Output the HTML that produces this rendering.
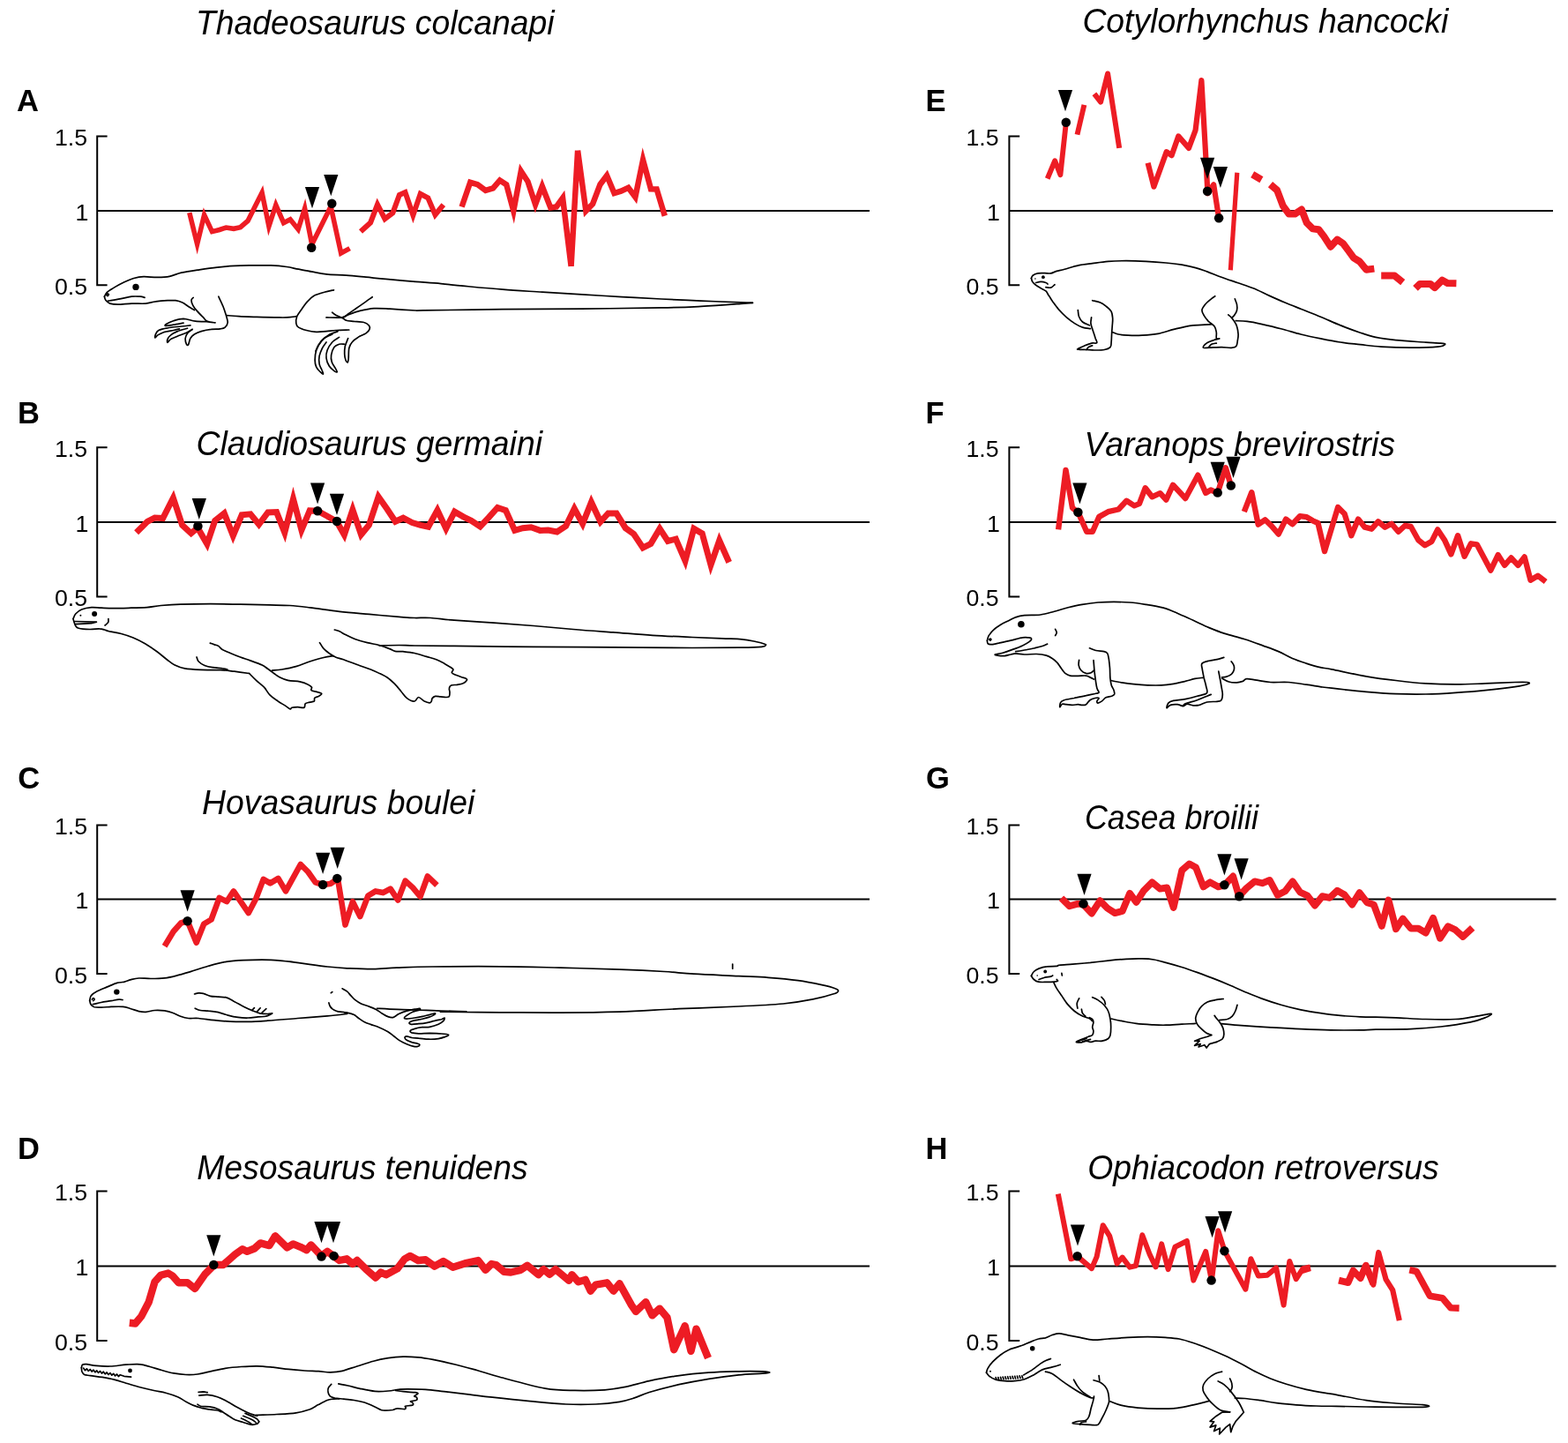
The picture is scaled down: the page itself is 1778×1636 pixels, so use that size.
<!DOCTYPE html>
<html lang="en"><head><meta charset="utf-8"><title>Figure</title>
<style>
html,body{margin:0;padding:0;background:#fff;}
body{width:1778px;height:1636px;overflow:hidden;}
svg{display:block;}
.ax{fill:none;stroke:#000;stroke-width:2;}
.red{fill:none;stroke:#ed1c24;stroke-linejoin:miter;stroke-miterlimit:40;stroke-linecap:butt;}
.rj{stroke-linejoin:round;}
.an{fill:none;stroke:#000;stroke-width:1.7;stroke-linejoin:round;stroke-linecap:round;}
.tk{font-family:"Liberation Sans",sans-serif;font-size:26.7px;fill:#000;text-anchor:end;}
.lb{font-family:"Liberation Sans",sans-serif;font-size:34.5px;font-weight:bold;fill:#000;}
.tt{font-family:"Liberation Sans",sans-serif;font-size:38px;font-style:italic;fill:#000;}
</style></head>
<body>
<svg width="1778" height="1636" viewBox="0 0 1778 1636">
<rect width="1778" height="1636" fill="#fff"/>
<g id="panel-A">
<path class="an"  d="M118.4 336.2 C118.9 335.4 119.6 333 121.4 331.3 C123.2 329.6 126.1 328 129.2 326.1 C132.4 324.2 136.7 321.8 140.5 320 C144.2 318.3 148 316.6 151.7 315.5 C155.5 314.5 158.5 313.9 163 313.7 C167.5 313.6 173.9 314.5 178.7 314.4 C183.6 314.3 187.7 314.2 192.2 313.3 C196.7 312.4 200.1 310.5 205.7 309.2 C211.4 308 219.2 306.9 226 305.9 C232.7 304.9 239.5 303.9 246.2 303.2 C253 302.4 259.7 301.7 266.5 301.4 C273.2 301 280 301 286.7 300.9 C293.5 300.8 300.6 300.7 307 300.9 C313.3 301.2 319.7 301.8 325 302.5 C330.2 303.2 333.6 304.3 338.5 305.2 C343.3 306.1 349 307.2 354.2 308.1 C359.5 309.1 363.6 310.1 370 310.8 C376.3 311.5 385 311.6 392.5 312.2 C400 312.7 407.5 313.5 415 314.2 C422.5 314.9 428.1 315.6 437.5 316.4 C446.8 317.3 460.8 318.5 471.2 319.4 C481.6 320.2 491 320.8 500 321.6 C509 322.4 513.3 323.1 525 324.2 C536.7 325.3 555 327.1 570 328.2 C585 329.4 600 330.2 615 331.2 C630 332.1 645 333 660 333.9 C675 334.8 690 335.7 705 336.6 C720 337.4 735 338.3 750 339 C765 339.8 780 340.4 795 341.1 C810 341.7 830.2 342.5 840 342.9 C849.7 343.2 851.2 343.2 853.5 343.3"/>
<path class="an"  d="M853.5 343.3 C851.2 343.5 849.7 343.8 840 344.4 C830.2 345.1 810 346.6 795 347.4 C780 348.1 772.5 348.5 750 348.9 C727.5 349.4 690 349.8 660 350.1 C630 350.4 600 350.4 570 350.7 C540 351 496.5 351.7 480 351.9 C463.5 352.1 477.5 352.3 471.2 352 C464.9 351.7 449.8 350.6 442 350.2 C434.1 349.8 429.6 349.4 424 349.7 C418.3 350.1 412.9 351.3 408.2 352.4 C403.5 353.6 399 355.3 395.8 356.5 C392.7 357.7 390.2 359.3 389.1 359.9"/>
<path class="an"  d="M118.4 336.2 C118.7 336.9 118.7 339 119.8 340.3 C120.8 341.6 122.4 343.3 124.7 344.1 C127.1 344.9 129.6 345.2 133.7 345.2 C137.9 345.2 144.2 344.3 149.5 344.1 C154.7 343.9 160.7 344.5 165.2 344.1 C169.7 343.7 172.4 342.4 176.5 341.9 C180.6 341.3 186.2 340.9 190 340.7 C193.7 340.6 196.2 340.4 199 340.7 C201.8 341.1 204.4 341.9 206.9 343 C209.3 344.1 211.4 346.1 213.6 347.5 C215.9 348.9 219.2 350.9 220.4 351.5"/>
<path class="an"  d="M122.5 341.2 C124.7 340.8 131.5 339.8 136 338.9 C140.5 338.1 145.7 336.7 149.5 336.2 C153.3 335.8 156.5 336.1 158.9 336.2 C161.4 336.4 163.3 337.2 164.1 337.4"/>
<path class="an"  d="M120.7 334.7 C120.9 334.4 121.4 333 121.8 332.9 C122.3 332.8 123.4 333.5 123.4 334 C123.4 334.4 122.3 335.3 122 335.6"/>
<path class="an"  d="M219.2 337.4 C218.9 337.9 217.1 338.8 217 340.3 C216.9 341.8 217.7 344.3 218.8 346.4 C219.8 348.4 221.3 350.2 223.3 352.4 C225.2 354.7 228.5 357.9 230.5 359.9 C232.4 361.9 232.7 363.4 235 364.4 C237.2 365.4 242.5 365.7 244 365.9"/>
<path class="an"  d="M247.8 336.2 C248.7 338.1 251.6 343.9 253 347.5 C254.4 351.1 255.5 354.6 256.4 357.6 C257.2 360.6 258.3 363.2 258.2 365.5 C258 367.7 256.7 369.9 255.2 371.1 C253.8 372.4 252.2 372.5 249.6 372.9 C247 373.3 243 372.9 239.5 373.4 C235.9 373.8 231.4 374.7 228.2 375.6 C225 376.6 222.4 377.7 220.4 379 C218.3 380.3 217 381.5 215.9 383.5 C214.7 385.4 214.4 389.6 213.6 390.7 C212.9 391.8 211.9 391.4 211.4 390.2 C210.8 389 210 385.5 210.2 383.5 C210.4 381.4 211.2 379.6 212.5 377.9 C213.8 376.2 217.2 374.1 218.1 373.4"/>
<path class="an"  d="M235 364.6 C232.7 364.5 226 364.7 221.5 364.1 C217 363.6 212.1 361.5 208 361.4 C203.9 361.4 199.9 362.7 196.7 363.7 C193.6 364.7 190.4 366.4 188.9 367.3 C187.4 368.2 186.4 369.2 187.7 369.3 C189.1 369.5 193.4 368.7 196.7 368.2 C200.1 367.7 206.1 366.5 208 366.2"/>
<path class="an"  d="M215.9 368.9 C214.2 369.1 210 369.5 205.7 370 C201.4 370.5 194.3 371 190 371.8 C185.7 372.5 182.1 373.3 179.9 374.5 C177.6 375.7 177.2 377.6 176.5 379 C175.8 380.4 175.4 382.8 175.8 383 C176.2 383.2 177.1 381.2 178.7 380.1 C180.4 379.1 182.5 377.7 185.5 376.7 C188.5 375.8 193.7 375.1 196.7 374.5 C199.7 373.9 202.4 373.2 203.5 372.9"/>
<path class="an"  d="M212.5 372.2 C210.6 372.8 204.4 374.3 201.2 375.6 C198.1 376.9 195.2 378.6 193.4 380.1 C191.5 381.6 190.6 383.2 190 384.6 C189.4 386 189.4 388.4 190 388.4 C190.6 388.4 191.5 385.8 193.4 384.6 C195.2 383.4 198.2 382.5 201.2 381.2 C204.2 380 208.5 378.5 211.4 377.2 C214.2 375.9 217 374 218.1 373.4"/>
<path class="an"  d="M257.5 357.6 C259.7 357.8 265.4 358.4 271 358.7 C276.6 359 284.5 359.2 291.2 359.4 C298 359.6 305.8 359.8 311.5 359.9 C317.1 359.9 320.8 360.1 325 359.9 C329.1 359.7 334.3 358.9 336.2 358.7"/>
<path class="an"  d="M378.5 328.8 C376.7 329.2 371.4 330.2 367.7 331.3 C364 332.3 359.7 333.4 356.5 335.1 C353.3 336.9 351 339.2 348.6 341.9 C346.2 344.5 343.8 348.1 341.8 350.9 C339.9 353.7 337.7 356.1 336.7 358.7 C335.7 361.4 335.5 364.6 335.8 366.6 C336.1 368.7 336.5 369.8 338.5 371.1 C340.4 372.4 344.1 373.6 347.5 374.5 C350.8 375.4 355 376.1 358.7 376.3 C362.5 376.5 366.2 375.9 370 375.6 C373.7 375.3 376.9 374.8 381.2 374.5 C385.5 374.2 393.4 374.1 395.8 374"/>
<path class="an"  d="M376.7 354.2 C377.5 354.8 379.2 356.5 381.2 357.6 C383.3 358.7 387.2 360.1 389.1 361 C391 361.9 390.4 362.7 392.5 363.2 C394.5 363.8 398.1 364 401.5 364.4 C404.8 364.7 409.9 364.7 412.7 365.5 C415.5 366.2 417.3 367.6 418.3 368.9 C419.4 370.2 419.6 371.9 419 373.4 C418.4 374.9 417.1 376.4 415 377.9 C412.8 379.4 408.6 380.7 406 382.4 C403.3 384 400.9 385.9 399.2 388 C397.5 390 396.5 391.7 395.8 394.7 C395.2 397.7 395.4 403.3 395.2 406 C394.9 408.7 394.8 410.6 394.3 410.9 C393.7 411.3 392.6 409.8 392 408.2 C391.4 406.7 390.8 404.1 390.7 401.5 C390.6 398.9 390.7 395.5 391.3 392.5 C392 389.5 394.2 385 394.7 383.5"/>
<path class="an"  d="M422.2 336.7 C421 337.6 418 339.7 415 341.9 C411.9 344 407.1 347.4 403.7 349.7 C400.3 352.1 397.3 354.4 394.7 356 C392.1 357.7 392.1 359.2 388 359.9 C383.8 360.5 373 359.9 370 359.9"/>
<path class="an"  d="M383 375.6 C381.2 376.4 375.3 378.2 372.2 380.1 C369.1 382 366.6 384 364.3 386.9 C362.1 389.7 359.9 393.4 358.7 397 C357.5 400.5 357.1 405 357.1 408.2 C357.1 411.4 357.7 413.9 358.7 416.1 C359.7 418.4 361.9 420.4 363.2 421.7 C364.5 423 366.3 424.4 366.6 424 C366.9 423.6 365.8 421.4 365 419.5 C364.3 417.6 362.6 415.4 362.1 412.7 C361.6 410.1 361.5 406.7 362.1 403.7 C362.7 400.7 364.2 397.4 365.5 394.7 C366.8 392.1 369.2 389.1 370 388"/>
<path class="an"  d="M384.6 382.4 C383.3 383.3 379 385.5 376.7 388 C374.5 390.4 372.2 394 371.1 397 C370 400 369.6 403 370 406 C370.3 409 371.8 412.5 373.3 415 C374.8 417.4 377.5 419.5 379 420.6 C380.5 421.7 382.2 422.3 382.3 421.7 C382.5 421.2 381.1 419.1 380.1 417.2 C379.1 415.4 377 412.9 376.3 410.5 C375.5 408 375.1 405.4 375.6 402.6 C376 399.8 377.5 395.7 379 393.6 C380.5 391.5 382.7 390.8 384.6 390.2 C386.5 389.7 389.3 390.2 390.2 390.2"/>
<path class="an"  d="M376.7 379 C375.2 379.7 370.3 381.4 367.7 383.5 C365.1 385.5 362.6 388.9 361 391.4 C359.4 393.8 358.5 397 358 398.1"/>
<circle cx="154" cy="325.4" r="3.7" fill="#000"/>
<path class="ax" d="M121.6 154.6 H110.2 V323.3 H121.6 M110.2 238.9 H986"/>
<text class="tk" x="99" y="165.2">1.5</text>
<text class="tk" x="100.3" y="249.8">1</text>
<text class="tk" x="99" y="334.3">0.5</text>
<text class="lb" x="19.1" y="126.2">A</text>
<text class="tt" transform="translate(221.9 38.9) scale(0.9825 1.035)">Thadeosaurus colcanapi</text>
<path class="red" stroke-width="5.6" d="M214.8 241.1 L223.6 276.8 L231.6 243.7 L240.5 262.6 L248.9 260.5 L256.5 258 L265 259.3 L272.6 257.7 L281 250.4 L288.6 235.2 L297.1 218.4 L304.9 256.6 L312.8 232.3 L321.6 252.7 L329.1 248.8 L338.1 260 L345.6 236.2 L353.7 277.1 L375.1 234.1 L386.7 287 L396.6 281.6"/>
<path class="red" stroke-width="6" d="M409 262.5 L420.1 252.4 L428 231.9 L436.4 248.2 L445.4 241.3 L452.9 221 L459.5 218 L468.4 244 L476.7 219.8 L485.3 224.4 L493.5 243.5 L502.8 232.2"/>
<path class="red" stroke-width="6.5" d="M523.6 234.5 L533.2 206.8 L541.5 209.2 L550.6 215.9 L559.1 213.3 L566.8 204.4 L574.2 209.2 L582.3 239.2 L590.8 194 L598.5 205.8 L607.1 231.9 L614.8 211.2 L624.3 235.4 L630.9 234.5 L638.1 224.5 L647.6 301.9 M647.6 301.9 L655.1 170.6 M655.1 170.6 L664.4 239.1 L672.1 231.2 L680.5 209.2 L688.1 199 L696.5 219.1 L704.2 216.6 L712.5 212.8 L720.4 223.4 L729.1 181.3 L738 214.2 L744.6 214.4 L753.8 244.7"/>
<path d="M345.9 212 L362.1 212 L354 236.2Z" fill="#000"/>
<path d="M367.2 198 L383.4 198 L375.3 222.2Z" fill="#000"/>
<circle cx="353.2" cy="280.8" r="5.25" fill="#000"/>
<circle cx="376.3" cy="230.7" r="5.25" fill="#000"/>
</g>
<g id="panel-B">
<path class="an"  d="M83 701.6 C83.5 700.7 84.2 697.8 85.7 696 C87.3 694.2 89.5 692.3 92.5 691 C95.5 689.8 100 688.9 103.7 688.6 C107.5 688.3 110.9 689.1 115 689.2 C119.1 689.4 122.9 689.7 128.5 689.7 C134.1 689.7 142.4 689.4 148.7 689.2 C155.1 689.1 161.1 689 166.7 688.6 C172.4 688.1 176.1 687.1 182.5 686.5 C188.9 686 195.6 685.5 205 685.2 C214.4 684.9 227.5 684.7 238.7 684.7 C250 684.7 261.2 685 272.5 685.2 C283.7 685.4 296.8 685.6 306.2 685.9 C315.6 686.1 321.2 686.1 328.7 686.5 C336.2 687 341.8 687.7 351.2 688.8 C360.6 689.9 373.7 692 385 693.3 C396.2 694.6 407.5 695.4 418.7 696.4 C430 697.5 443.9 698.7 452.5 699.4 C461 700 464.1 700.3 470 700.5 C475.9 700.7 480.5 700 488 700.5 C495.5 700.9 503 702.3 515 703.2 C527 704.1 545 705.1 560 706.1 C575 707.2 590 708.3 605 709.5 C620 710.7 635 712.3 650 713.5 C665 714.8 680 715.8 695 716.9 C710 718 725 719.4 740 720.3 C755 721.2 771.8 721.9 785 722.5 C798.1 723.1 809.3 723.5 818.7 723.9 C828.1 724.3 834.8 724.2 841.2 724.8 C847.6 725.4 852.6 726.6 857 727.5 C861.3 728.4 865.2 729.5 867.1 730.2 C869 730.9 868.8 731 868.2 731.5 C867.6 732.1 868.2 732.9 863.7 733.3 C859.2 733.8 854.3 734.1 841.2 734.2 C828.1 734.4 809.3 734.5 785 734.5 C760.6 734.4 725 734 695 733.8 C665 733.6 635 733.6 605 733.3 C575 733.1 537.5 732.7 515 732.4 C492.5 732.2 480.4 732.1 470 732 C459.6 731.8 459.1 731.5 452.5 731.5 C445.8 731.5 433.7 731.9 430 732"/>
<path class="an"  d="M83 701.6 C83.2 702.2 83.5 703.7 83.9 705 C84.4 706.3 84.9 708.3 85.7 709.5 C86.6 710.7 86.5 711.5 89.1 712.2 C91.7 712.9 97.6 713.4 101.5 713.5 C105.4 713.7 109.9 712.8 112.7 712.9 C115.6 712.9 116.5 713.5 118.4 714 C120.2 714.5 120.8 715 124 715.8 C127.2 716.5 133 717.3 137.5 718.5 C142 719.7 146.5 721.1 151 723 C155.5 724.9 160 727.1 164.5 729.7 C169 732.4 173.9 735.7 178 738.7 C182.1 741.7 185.9 745.2 189.2 747.7 C192.6 750.3 194.9 752.4 198.2 754 C201.6 755.7 204.6 757 209.5 757.9 C214.4 758.8 220.7 759.1 227.5 759.4 C234.2 759.7 243.6 759.4 250 759.7 C256.4 760 260.3 760.6 265.7 761.2 C271.2 761.9 279.8 763.1 282.6 763.5"/>
<path class="an"  d="M84.6 704.5 L109.4 705.2 L103.7 706.6 L85.7 707.7"/>
<path class="an"  d="M122.9 701.6 C122.8 702.3 123.3 704.4 122.6 705.7 C122 706.9 119.6 708.5 119 709"/>
<path class="an"  d="M238.3 729.1 C239.1 729.4 241.7 730.3 243.2 730.9 C244.8 731.4 246.2 731.5 247.7 732.4 C249.2 733.4 250 735.1 252.2 736.5 C254.5 737.8 257.9 739.1 261.2 740.5 C264.6 742 268.7 743.7 272.5 745 C276.2 746.4 279.6 747.4 283.7 748.9 C287.8 750.4 293.8 752.4 297.2 754 C300.6 755.7 301.7 757 304 758.5 C306.2 760.1 308.5 761.9 310.7 763.5 C313 765.1 314.8 766.7 317.5 768 C320.1 769.3 322.7 770.5 326.5 771.4 C330.2 772.2 336.2 772.2 340 772.9 C343.7 773.7 346.7 774.8 349 775.9 C351.2 776.9 352.8 778.1 353.5 779.2 C354.1 780.4 352.1 781.7 353 782.6 C354 783.5 357.1 783.8 359.1 784.4 C361 785 364.3 785.6 364.7 786.4 C365.1 787.3 362.7 788.6 361.3 789.4 C360 790.1 357.7 790.2 356.8 791.2 C356 792.1 357.1 794.2 356.2 795 C355.2 795.8 352.9 795.7 351.2 796.1 C349.6 796.6 347.3 796.7 346.3 797.7 C345.2 798.7 346.3 801.5 344.9 802.2 C343.5 802.9 340 801.7 337.7 801.7 C335.4 801.7 332.4 801.8 331 802.2 C329.5 802.6 330.3 804.2 329.2 804 C328 803.7 326.5 802.1 324.2 800.6 C321.9 799.1 318.2 797 315.2 795 C312.2 792.9 308.8 790.9 306.2 788.2 C303.6 785.6 302.1 782 299.5 779.2 C296.8 776.4 293.3 774 290.5 771.4 C287.7 768.7 283.9 764.8 282.6 763.5"/>
<path class="an"  d="M223 745 C223.4 745.9 223.7 748.4 225.2 750 C226.7 751.6 229.4 753.4 232 754.5 C234.6 755.6 237.6 756.2 241 756.7 C244.4 757.3 249.4 757.5 252.2 757.9 C255 758.2 256.9 758.8 257.9 759"/>
<path class="an"  d="M308.5 760.1 C310.3 759.9 315.2 759.7 319.7 759 C324.2 758.2 330.2 757.1 335.5 755.6 C340.7 754.1 346 751.7 351.2 750 C356.5 748.3 362.5 746.5 367 745.5 C371.5 744.4 376.3 744 378.2 743.7"/>
<path class="an"  d="M379.3 714 C380.3 714.3 382.9 714.9 385 715.8 C387 716.7 388.7 718.1 391.7 719.6 C394.7 721.1 398.8 723.3 403 724.8 C407.1 726.3 412 727.5 416.5 728.6 C421 729.7 425.8 730.4 430 731.5 C434.1 732.7 438.2 734.2 441.2 735.4 C444.2 736.5 445.3 737.7 448 738.3 C450.6 738.9 453.3 738.4 457 738.7 C460.6 739.1 465.6 739.6 470 740.5 C474.4 741.5 479.4 743.2 483.5 744.4 C487.6 745.6 491.4 746.4 494.7 747.7 C498.1 749.1 501.1 750.8 503.7 752.2 C506.4 753.7 508.8 755.2 510.5 756.3 C512.2 757.4 513.6 758 513.9 759 C514.2 760 512.1 761.4 512.3 762.4 C512.5 763.3 513.2 763.7 515 764.6 C516.8 765.5 520.5 766.7 522.9 767.5 C525.2 768.4 527.9 768.8 528.9 769.6 C530 770.3 529.6 770.9 528.9 771.8 C528.3 772.7 526.9 774 525.1 774.7 C523.4 775.5 520.6 775.9 518.4 776.3 C516.1 776.7 513.1 776.3 511.6 777 C510.1 777.7 509.6 779 509.4 780.4 C509.1 781.7 510 783.4 510 784.9 C510 786.4 510 788.4 509.4 789.4 C508.7 790.3 507.7 790.4 506 790.5 C504.3 790.6 501.3 790 499.2 789.8 C497.2 789.6 495.1 789.1 493.6 789.4 C492.1 789.7 491 790.6 490.2 791.6 C489.5 792.6 489.7 794.6 489.1 795.4 C488.6 796.3 488.2 796.9 486.9 796.8 C485.6 796.7 483.3 796 481.2 795 C479.2 793.9 476.4 790.5 474.5 790.5 C472.6 790.5 472.2 794.8 470 795 C467.8 795.2 464 793.5 461.5 791.6 C458.9 789.7 457 786.4 454.7 783.7 C452.5 781.1 450.6 778.5 448 775.9 C445.3 773.2 442.7 770.4 439 768 C435.2 765.5 430.7 763.5 425.5 761.2 C420.2 759 413.5 756.7 407.5 754.5 C401.5 752.2 394 749.3 389.5 747.7 C385 746.2 383.1 746.2 380.5 745 C377.8 743.9 376 742.6 373.7 741 C371.5 739.4 368.8 737.4 367 735.4 C365.1 733.3 363.2 729.7 362.5 728.6"/>
<circle cx="107.1" cy="696" r="3" fill="#000"/>
<circle cx="91.4" cy="697.8" r="1" fill="#000"/>
<path class="ax" d="M121.6 507.3 H110.2 V676.4 H121.6 M110.2 592 H986"/>
<text class="tk" x="99" y="517.9">1.5</text>
<text class="tk" x="100.3" y="602.9">1</text>
<text class="tk" x="99" y="687.4">0.5</text>
<text class="lb" x="19.9" y="479.7">B</text>
<text class="tt" transform="translate(222.4 515.9) scale(0.9837 1.035)">Claudiosaurus germaini</text>
<path class="red" stroke-width="7" d="M154.6 603.8 L167.1 591.3 L175.5 587 L184.7 587.6 L196.4 564.5 L206.6 595.3 L216.7 604.7 L224.2 598.4 L234.8 616.7 L243.7 590.3 L254.3 581.9 L264.3 607.4 L274.2 583.8 L284 582.8 L293.6 594.5 L303.8 581 L313.6 580.6 L322.8 603.8 L332.5 565.7 L341.9 601 L351.2 578.9 L360.1 579.2 L371.2 585.2 L381.9 591.4 L390.4 606.4 L399.9 578 L409.5 606.1 L418.4 595.3 L429.1 563.2 L438.7 576.8 L448.3 591.3 L457.2 587.2 L467.4 592.6 L476.8 595.4 L485.7 597.2 L496 578.4 L505.8 599.2 L515.5 580.2 L525.3 585.9 L534.4 590.3 L544.5 597 L554 586.9 L564.2 575.5 L573.4 578.6 L583.7 601.4 L592.8 598.7 L602.2 597.8 L612.4 601.4 L621.5 601.1 L631.6 603 L641.7 596.3 L651.3 576.7 L660.7 593.9 L670.5 569.4 L680.9 591.6 L689.7 582 L699 582.1 L709.3 598.7 L718.7 605.5 L729 620.9 L737.9 616.6 L748.1 599.4 L757.3 613.4 L766.3 611.2 L777 635.9 L786.8 599.3 L796.2 604.9 L806 640.6 L815.7 612.8 L826.7 637.5"/>
<path d="M217.7 564.9 L233.9 564.9 L225.8 589.1Z" fill="#000"/>
<path d="M352 547.4 L368.2 547.4 L360.1 571.6Z" fill="#000"/>
<path d="M373.9 559.8 L390.1 559.8 L382 584Z" fill="#000"/>
<circle cx="224.4" cy="596.4" r="5.25" fill="#000"/>
<circle cx="360.1" cy="579.2" r="5.25" fill="#000"/>
<circle cx="382" cy="591" r="5.25" fill="#000"/>
</g>
<g id="panel-C">
<path class="an"  d="M101.7 1134.2 C102 1133.3 102.1 1130.4 103.5 1128.6 C104.9 1126.9 107.2 1125.3 110.2 1123.7 C113.2 1122.1 117.7 1120.5 121.5 1118.9 C125.2 1117.4 129.6 1115.4 132.7 1114.4 C135.9 1113.5 138 1114 140.6 1113.3 C143.2 1112.7 145.7 1111.3 148.5 1110.6 C151.3 1109.9 153.7 1109.2 157.5 1109 C161.2 1108.9 166.1 1109.5 171 1109.5 C175.9 1109.5 181.9 1109.4 186.7 1108.8 C191.6 1108.3 195.4 1107.3 200.2 1106.1 C205.1 1104.9 210 1103.4 216 1101.6 C222 1099.8 229.5 1097.2 236.2 1095.3 C243 1093.4 249.7 1091.5 256.5 1090.4 C263.2 1089.2 270 1088.9 276.7 1088.6 C283.5 1088.2 290.6 1088.1 297 1088.1 C303.3 1088.2 309 1088.3 315 1088.8 C321 1089.2 327 1090.1 333 1090.8 C339 1091.6 344.6 1092.4 351 1093.3 C357.3 1094.2 364.1 1095.2 371.2 1096 C378.3 1096.7 385.1 1097.3 393.7 1097.8 C402.3 1098.2 413.6 1098.8 423 1098.7 C432.3 1098.6 438.8 1097.6 450 1097.1 C461.1 1096.7 470.4 1096.2 490 1096 C509.6 1095.8 543.3 1095.6 567.5 1095.8 C591.7 1096 612.5 1096.6 635 1097.1 C657.5 1097.7 682.8 1098.4 702.5 1099.2 C722.2 1099.9 739 1100.7 753.1 1101.5 C767.2 1102.4 772.8 1103.4 786.8 1104.2 C800.9 1105.1 823.4 1105.9 837.5 1106.6 C851.5 1107.3 860 1107.4 871.2 1108.3 C882.5 1109.1 894.8 1110.2 904.9 1111.7 C915.1 1113.1 924.9 1115.2 931.9 1116.7 C939 1118.2 944 1119.6 947.1 1120.8 C950.2 1121.9 950.8 1122.5 950.5 1123.5 C950.2 1124.5 950.2 1125.3 945.4 1126.8 C940.7 1128.4 931.4 1131.1 921.8 1132.9 C912.3 1134.8 902.1 1136.6 888.1 1138 C874 1139.3 857.1 1140.1 837.5 1141 C817.8 1142 792.5 1142.7 770 1143.7 C747.5 1144.7 725 1146.4 702.5 1147.1 C680 1147.8 657.5 1148 635 1148.1 C612.5 1148.2 590 1147.9 567.5 1147.8 C545 1147.6 506.5 1147.3 500 1147.1 C493.5 1146.9 529.6 1146.9 528.7 1146.7 C527.9 1146.5 504.4 1146.2 495 1145.9 C485.6 1145.6 480 1145.2 472.5 1145 C465 1144.8 457.5 1144.7 450 1144.4 C442.5 1144.2 431.2 1143.5 427.5 1143.3"/>
<path class="an"  d="M101.7 1134.2 C101.9 1135 102.2 1137.5 103 1138.7 C103.9 1140 104.9 1141.1 106.9 1141.7 C108.8 1142.2 111.6 1142.2 114.7 1142.1 C117.9 1142.1 121.9 1141.6 126 1141.4 C130.1 1141.3 135.7 1141.1 139.5 1141.4 C143.2 1141.8 145.5 1142.8 148.5 1143.7 C151.5 1144.6 154.7 1146 157.5 1146.6 C160.3 1147.2 162.4 1147.5 165.4 1147.3 C168.4 1147.1 171.9 1145.7 175.5 1145.5 C179.1 1145.3 183.4 1145.5 186.7 1145.9 C190.1 1146.4 192.7 1147.1 195.7 1148.2 C198.7 1149.2 201.7 1151.2 204.7 1152.2 C207.7 1153.3 210.4 1154.1 213.7 1154.5 C217.1 1154.9 220.1 1154.1 225 1154.5 C229.9 1154.9 237 1156.1 243 1156.7 C249 1157.3 254.6 1157.8 261 1158.1 C267.4 1158.4 274.1 1158.5 281.2 1158.3 C288.4 1158.2 294.3 1157.8 303.7 1157.2 C313.1 1156.6 326.2 1155.4 337.5 1154.5 C348.7 1153.6 361.8 1152.6 371.2 1151.8 C380.6 1151 390 1149.9 393.7 1149.5"/>
<path class="an"  d="M105.3 1138.7 C106.9 1138.4 111.3 1137.2 114.7 1136.5 C118.2 1135.8 122.6 1135.3 126 1134.7 C129.4 1134.1 132.8 1133.3 135 1133.1 C137.2 1132.9 138.4 1133.5 139 1133.6"/>
<path class="an"  d="M104.4 1133.1 C104.6 1132.9 105.3 1131.5 105.7 1131.5 C106.2 1131.5 107.1 1132.6 107.1 1133.1 C107.1 1133.6 106 1134.4 105.7 1134.7"/>
<path class="an"  d="M220.5 1127 C221.2 1126.9 223.3 1126 225 1125.9 C226.7 1125.8 228.4 1125.8 230.6 1126.4 C232.9 1126.9 235.7 1128.7 238.5 1129.3 C241.3 1129.9 244.5 1129.9 247.5 1130.2 C250.5 1130.5 253.5 1130 256.5 1130.9 C259.5 1131.7 262.1 1133.6 265.5 1135.4 C268.9 1137.1 273.4 1139.8 276.7 1141.4 C280.1 1143.1 282.7 1144.3 285.7 1145.5 C288.7 1146.7 291.7 1148.2 294.7 1148.9 C297.7 1149.5 301.4 1149.5 303.7 1149.5 C306 1149.5 309 1148.4 308.7 1148.9 C308.3 1149.3 304.2 1151.6 301.5 1152.2 C298.8 1152.9 295.8 1152.6 292.5 1152.9 C289.1 1153.2 285 1154 281.2 1154 C277.5 1154.1 273.7 1153.9 270 1153.4 C266.2 1152.9 262.5 1152.1 258.7 1151.1 C255 1150.2 251.2 1148.6 247.5 1147.7 C243.7 1146.9 239.6 1146.5 236.2 1146.2 C232.9 1145.8 229.7 1146 227.2 1145.5 C224.7 1145 222.2 1143.6 221.2 1143.2"/>
<path class="an"  d="M285.7 1145.5 L288.4 1142.6"/>
<path class="an"  d="M291.3 1147.1 L295.2 1142.8"/>
<path class="an"  d="M297 1148.2 L301.9 1143.7"/>
<path class="an"  d="M375.3 1125.7 L376.8 1124.6"/>
<path class="an"  d="M388.1 1120.8 C389.1 1121.4 392.1 1122.8 393.7 1124.2 C395.4 1125.6 396.7 1127.7 398.2 1129.2 C399.7 1130.8 400.9 1132.3 402.7 1133.7 C404.6 1135.2 406.9 1136.8 409.5 1138 C412.1 1139.2 415.7 1140 418.5 1141.1 C421.3 1142.1 423.9 1143.1 426.4 1144.4 C428.8 1145.7 430.9 1147.6 433.1 1148.9 C435.4 1150.3 437.7 1151.9 439.9 1152.6 C442 1153.4 444 1154 446.1 1153.4 C448.1 1152.9 449.7 1150.7 452.2 1149.5 C454.8 1148.3 457.9 1147.1 461.2 1146.1 C464.6 1145.2 470 1144.3 472.5 1143.9 C474.9 1143.4 475.3 1143.1 475.9 1143.3 C476.4 1143.5 477.2 1144.3 475.9 1145 C474.5 1145.7 470.4 1146.2 468 1147.2 C465.5 1148.3 462.8 1150.1 461.2 1151.2 C459.6 1152.3 458.4 1153.3 458.4 1154 C458.4 1154.6 459.3 1155.1 461.2 1155.1 C463.2 1155.1 467.2 1154.5 470.2 1154 C473.2 1153.5 476.2 1153 479.2 1152.3 C482.2 1151.6 485.9 1150.6 488.2 1150.1 C490.6 1149.5 492.6 1148.8 493.3 1148.9 C494 1149 493.4 1149.9 492.2 1150.6 C491 1151.4 488.5 1152.6 486 1153.4 C483.5 1154.3 480 1155 477 1155.7 C474 1156.3 470.1 1156.7 468 1157.4 C465.8 1158 464.3 1159 464 1159.6 C463.8 1160.3 464.5 1161.1 466.3 1161.3 C468.1 1161.5 471.8 1161 474.7 1160.7 C477.6 1160.5 480.7 1160.2 483.7 1159.6 C486.7 1159.1 489.9 1158 492.7 1157.4 C495.5 1156.7 498.7 1156.2 500.6 1155.7 C502.5 1155.1 503.6 1153.7 504 1154 C504.4 1154.3 504 1156.1 502.9 1157.4 C501.7 1158.6 499.9 1160.1 497.2 1161.3 C494.6 1162.5 490.3 1163.8 487.1 1164.3 C483.9 1164.9 480.9 1164.3 478.1 1164.7 C475.3 1165 472.4 1165.7 470.2 1166.4 C468.1 1167 465.7 1167.9 465.2 1168.6 C464.6 1169.4 465.3 1170.3 466.9 1170.9 C468.5 1171.4 471.4 1171.7 474.7 1171.8 C478.1 1171.9 482.8 1171.4 487.1 1171.4 C491.4 1171.5 497 1171.7 500.6 1172 C504.2 1172.3 507.7 1172.6 508.5 1173.1 C509.2 1173.7 507 1174.6 505.1 1175.4 C503.2 1176.1 500.4 1177.1 497.2 1177.6 C494 1178.1 489.7 1178.3 486 1178.2 C482.2 1178.1 477.9 1177.3 474.7 1177.1 C471.5 1176.8 469.1 1176.9 466.9 1176.5 C464.6 1176.1 462.5 1174.8 461.2 1174.8 C459.9 1174.8 459 1175.7 459 1176.5 C459 1177.2 459.9 1178.5 461.2 1179.3 C462.5 1180.1 464.8 1180.9 466.9 1181.6 C468.9 1182.2 472.1 1182.8 473.6 1183.2 C475.1 1183.7 475.9 1183.8 475.9 1184.4 C475.9 1184.9 474.7 1186.1 473.6 1186.4 C472.5 1186.7 471.2 1186.8 469.1 1186.4 C467 1186 463.9 1184.9 461.2 1183.8 C458.6 1182.7 455.8 1181.4 453.4 1179.9 C450.9 1178.4 448.9 1176.5 446.6 1174.8 C444.4 1173.1 442.7 1171.4 439.9 1169.7 C437.1 1168.1 432.9 1166 429.7 1164.7 C426.6 1163.3 423.6 1162.7 420.7 1161.6 C417.9 1160.6 415.3 1159.8 412.9 1158.5 C410.4 1157.2 408 1155.3 406.1 1154 C404.2 1152.7 403.5 1151.6 401.6 1150.6 C399.7 1149.7 396.7 1148.8 394.9 1148.4 C393 1147.9 391.1 1147.9 390.4 1147.8"/>
<path class="an"  d="M372.9 1136.9 C373.1 1137.5 373.4 1139.3 374.1 1140.5 C374.7 1141.7 375.7 1142.9 376.9 1143.9 C378.1 1144.8 379.9 1145.8 381.4 1146.3 C382.9 1146.9 384.4 1147.1 385.9 1147.2 C387.4 1147.4 389.1 1147.2 390.4 1147.5 C391.7 1147.7 393.2 1148.4 393.7 1148.6"/>
<path class="an"  d="M830.7 1093.1 L830.7 1098.2"/>
<circle cx="132.3" cy="1124.6" r="3.2" fill="#000"/>
<path class="ax" d="M121.6 935.5 H110.2 V1103.9 H121.6 M110.2 1019.5 H986"/>
<text class="tk" x="99" y="946.1">1.5</text>
<text class="tk" x="100.3" y="1030.4">1</text>
<text class="tk" x="99" y="1114.9">0.5</text>
<text class="lb" x="20.2" y="893.7">C</text>
<text class="tt" transform="translate(229.1 923.3) scale(0.9830 1.035)">Hovasaurus boulei</text>
<path class="red rj" stroke-width="6.6" d="M186.6 1072.8 L196.7 1056 L205.2 1046.5 L212.6 1044.2 L222.7 1068.8 L231.2 1047.5 L239.6 1042.5 L248.7 1017.8 L257.1 1022.2 L264.9 1010.4 L281.8 1035.1 L290.2 1018.9 L298.7 996.9 L306.4 1001.3 L315.5 995.9 L324 1010.4 L340.8 980 L349.3 988.5 L357.7 1000.3 L366.1 1003 L374.6 1002 L383 996.2 L391.5 1048.5 L399.9 1022.2 L408.3 1039.1 L417.4 1015.5 L425.9 1010.4 L434.3 1012.1 L442.7 1007.7 L451.2 1020.5 L459.6 998.6 L468.1 1006.4 L476.5 1016.5 L484.9 993.5 L495.4 1003.7"/>
<path d="M204.5 1009.3 L220.7 1009.3 L212.6 1033.5Z" fill="#000"/>
<path d="M358 966.8 L374.2 966.8 L366.1 991Z" fill="#000"/>
<path d="M374.6 960.7 L390.8 960.7 L382.7 984.9Z" fill="#000"/>
<circle cx="212.6" cy="1044.2" r="5.25" fill="#000"/>
<circle cx="366.1" cy="1003" r="5.25" fill="#000"/>
<circle cx="382.3" cy="995.9" r="5.25" fill="#000"/>
</g>
<g id="panel-D">
<path class="an"  d="M92.4 1550.6 C92.6 1550.1 92.6 1547.9 93.5 1547.2 C94.4 1546.6 95.4 1546.4 98 1546.6 C100.6 1546.8 104.7 1548 109.2 1548.4 C113.7 1548.8 119.4 1549.2 125 1549 C130.6 1548.9 137.4 1547.6 143 1547.2 C148.6 1546.9 154.2 1546.4 158.7 1546.8 C163.2 1547.2 165.9 1548.4 170 1549.5 C174.1 1550.6 179 1552.3 183.5 1553.5 C188 1554.8 192.5 1556.1 197 1556.9 C201.5 1557.7 206 1558.3 210.5 1558.5 C215 1558.7 219.5 1558.6 224 1558 C228.5 1557.5 232.2 1556.2 237.5 1555.1 C242.7 1554 249.5 1552.2 255.5 1551.3 C261.5 1550.4 267.5 1549.9 273.5 1549.5 C279.5 1549.1 285.5 1548.7 291.5 1548.8 C297.5 1548.9 303.5 1549.6 309.5 1550.2 C315.5 1550.8 321.5 1551.8 327.5 1552.4 C333.5 1553.1 339.8 1553.6 345.5 1554 C351.1 1554.4 356.3 1554.4 361.2 1554.7 C366.1 1555 370.3 1555.9 374.7 1555.8 C379.2 1555.7 383 1555.4 388 1554.3 C393 1553.1 399 1550.8 404.9 1549 C410.8 1547.2 417.5 1544.8 423.4 1543.3 C429.3 1541.7 434.7 1540.6 440.3 1539.7 C445.9 1538.9 451.5 1538.4 457.2 1538.2 C462.8 1538.1 468.4 1538.4 474 1538.9 C479.7 1539.4 483.9 1540.1 490.9 1541.4 C497.9 1542.8 507.8 1544.9 516.2 1547 C524.7 1549 533.1 1551.4 541.5 1553.7 C550 1556.1 554.1 1557.9 566.8 1561.3 C579.6 1564.7 603.9 1571.6 618.1 1574.1 C632.3 1576.6 640.6 1576.2 651.9 1576.4 C663.1 1576.7 676 1576.4 685.6 1575.8 C695.2 1575.1 700.8 1574.1 709.2 1572.4 C717.7 1570.7 726.1 1567.8 736.2 1565.6 C746.3 1563.5 758.7 1561.1 770 1559.6 C781.2 1558 792.5 1557 803.7 1556.2 C815 1555.4 827.3 1555.1 837.5 1554.8 C847.6 1554.6 858.5 1554.7 864.5 1554.8 C870.4 1555 872.9 1555.5 872.9 1555.9 C872.9 1556.3 870.4 1556.7 864.5 1557.2 C858.5 1557.7 847.6 1557.9 837.5 1558.9 C827.3 1559.9 815 1561.5 803.7 1563.3 C792.5 1565.1 781.2 1567.2 770 1569.7 C758.7 1572.2 744.7 1575.9 736.2 1578.5 C727.8 1581 725 1583.1 719.3 1584.9 C713.7 1586.7 709.8 1588.1 702.5 1589.3 C695.2 1590.4 685.6 1591.5 675.5 1592 C665.4 1592.4 654.1 1592.5 641.7 1592 C629.4 1591.4 615.1 1589.9 601.2 1588.6 C587.3 1587.3 569.8 1585.4 558.4 1584.1 C547 1582.9 541.5 1582.1 533.1 1581.1 C524.7 1580.1 516.2 1579.2 507.8 1578.2 C499.3 1577.3 490.1 1575.9 482.5 1575.3 C474.9 1574.8 467.3 1574.8 462.2 1574.8 C457.2 1574.8 455.8 1575 452.1 1575.3 C448.4 1575.7 444.8 1576.7 440.3 1577 C435.8 1577.4 430.4 1577.8 425.1 1577.4 C419.8 1576.9 413.3 1575.4 408.2 1574.3 C403.2 1573.3 398.8 1571.9 394.7 1571 C390.7 1570.1 385.6 1569.3 383.8 1568.9"/>
<path class="an"  d="M92.4 1550.6 C92.5 1551.4 92.5 1553.8 93 1555.1 C93.6 1556.4 94.2 1557.7 95.7 1558.5 C97.3 1559.2 99.1 1559.1 102.5 1559.6 C105.9 1560.1 111.5 1560.7 116 1561.4 C120.5 1562.2 125 1563 129.5 1564.1 C134 1565.2 138.1 1566.7 143 1568.2 C147.9 1569.6 153.5 1571.3 158.7 1572.7 C164 1574.1 169.6 1575.4 174.5 1576.5 C179.4 1577.6 183.5 1578 188 1579.2 C192.5 1580.4 197.7 1582.1 201.5 1583.7 C205.2 1585.3 207.5 1587.3 210.5 1588.9 C213.5 1590.5 216.5 1592.1 219.5 1593.4 C222.5 1594.6 225.5 1595.5 228.5 1596.3 C231.5 1597 234.5 1597.4 237.5 1597.9 C240.5 1598.3 244.2 1598.5 246.5 1599 C248.7 1599.5 250.2 1600.5 251 1600.8"/>
<path class="an"  d="M94.6 1551.1 L96.5 1553.7 L98.4 1551.8 L100.3 1554.4 L102.2 1552.5 L104.1 1555.1 L106 1553.2 L107.9 1555.8 L109.8 1553.9 L111.6 1556.4 L113.5 1554.5 L115.4 1557.1 L117.3 1555.2 L119.2 1557.8 L121.1 1555.9 L123 1558.5 L124.9 1556.6 L126.8 1559.2 L128.7 1557.3 L130.6 1559.9 L132.5 1558 L134.4 1560.6 L136.2 1558.7 L140.7 1560.3 L148.6 1561.2"/>
<path class="an"  d="M225.1 1578.3 C226 1578.2 229 1577.8 230.7 1577.8 C232.4 1577.9 234.5 1578.6 235.2 1578.7"/>
<path class="an"  d="M225.8 1582.1 C227.4 1582 231.8 1581.2 235.2 1581.4 C238.7 1581.7 242.7 1582.5 246.5 1583.7 C250.2 1584.9 254 1586.9 257.7 1588.9 C261.5 1590.9 265.2 1593.6 269 1595.6 C272.7 1597.7 277.2 1599.9 280.2 1601.2 C283.2 1602.6 285.1 1603.3 287 1603.9 C288.8 1604.6 290.7 1605.1 291.5 1605.3"/>
<path class="an"  d="M278 1602.4 C280 1603.3 287.7 1606.4 290.3 1608 C293 1609.6 293.2 1611.2 293.7 1611.8"/>
<path class="an"  d="M275.7 1605.3 C277.6 1606.1 284.3 1608.7 287 1610.2 C289.6 1611.7 290.7 1613.6 291.5 1614.3"/>
<path class="an"  d="M273.5 1608 C275 1608.7 280.4 1611.3 282.5 1612.5 C284.5 1613.7 285.3 1614.7 285.8 1615.2"/>
<path class="an"  d="M224 1592.2 C224.7 1592.6 226.2 1594 228.5 1594.5 C230.7 1594.9 234.5 1594.5 237.5 1594.9 C240.5 1595.4 243.9 1596.1 246.5 1597.2 C249.1 1598.2 251 1599.8 253.2 1601.2 C255.5 1602.7 257.7 1604.3 260 1605.7 C262.2 1607.2 264.1 1608.7 266.7 1609.8 C269.4 1610.9 272.7 1611.6 275.7 1612.5 C278.7 1613.4 282.1 1614.9 284.7 1615.2 C287.3 1615.5 290 1614.8 291.5 1614.3 C293 1613.7 293.3 1612.2 293.7 1611.8"/>
<path class="an"  d="M290.1 1604.4 C294.1 1604.2 306.2 1603.9 313.7 1603.5 C321.3 1603.1 329.5 1602.8 335.7 1601.8 C341.9 1600.9 346.6 1599.5 350.9 1598 C355.1 1596.4 357.6 1594.3 361 1592.6 C364.4 1590.8 368.3 1588.6 371.1 1587.5 C373.9 1586.4 375.6 1586.4 377.9 1586.1 C380.1 1585.9 383.5 1585.9 384.6 1585.8"/>
<path class="an"  d="M375.8 1569.3 C375.3 1569.9 373.1 1571.7 372.5 1573.1 C371.8 1574.6 371.7 1576.6 372 1578.2 C372.2 1579.8 372.9 1581.6 374.2 1582.8 C375.4 1583.9 377 1584.4 379.6 1585 C382.1 1585.5 386 1585.7 389.7 1586.1 C393.3 1586.6 397.5 1586.8 401.5 1587.5 C405.4 1588.1 409.6 1588.9 413.3 1590 C417 1591.1 420.6 1593 423.4 1594.2 C426.2 1595.5 428.3 1596.8 430.2 1597.6 C432 1598.4 431.9 1598.8 434.4 1599 C436.9 1599.1 442.7 1598.8 445.4 1598.5 C448 1598.1 448.2 1596.9 450.4 1596.8 C452.7 1596.6 457.2 1597.8 458.9 1597.6 C460.5 1597.4 460.1 1596.2 460.2 1595.6 C460.3 1595 458.4 1594.7 459.7 1594.2 C461 1593.8 466.8 1593.6 468.1 1592.9 C469.5 1592.2 468 1590.7 467.6 1590 C467.2 1589.3 464.8 1589.3 465.6 1588.8 C466.4 1588.4 471.2 1587.9 472.4 1587.2 C473.5 1586.4 472.8 1584.8 472.4 1584.1 C471.9 1583.4 469.5 1583.5 469.8 1582.8 C470.1 1582.1 473.9 1580.6 474 1579.9 C474.2 1579.2 473.5 1579.1 470.7 1578.7 C467.9 1578.4 460.8 1578.1 457.2 1577.7 C453.5 1577.3 450.1 1576.7 448.7 1576.5"/>
<circle cx="147.5" cy="1554" r="2.4" fill="#000"/>
<path class="ax" d="M121.6 1350.4 H110.2 V1520.1 H121.6 M110.2 1435.5 H986"/>
<text class="tk" x="99" y="1361">1.5</text>
<text class="tk" x="100.3" y="1446.4">1</text>
<text class="tk" x="99" y="1531.1">0.5</text>
<text class="lb" x="19.9" y="1313.9">D</text>
<text class="tt" transform="translate(223.2 1336.6) scale(0.9828 1.035)">Mesosaurus tenuidens</text>
<path class="red rj" stroke-width="8.4" stroke-linecap="round" d="M146.8 1499.8 L153.5 1500.5 L160.3 1492.4 L168.7 1476.2 L175.5 1453.3 L182.2 1445.8 L190.7 1443.5 L195.7 1446.5 L202.5 1454.3 L212.6 1454.3 L221 1461 L232.8 1444.2 L243 1434 L253.1 1434 L266.6 1422.2 L275 1416.2 L280.1 1418.9 L288.5 1415.5 L295.3 1409.4 L305.4 1412.1 L312.1 1401.3 L325.6 1414.5 L332.4 1410.4 L340.8 1413.8 L347.6 1417.2 L352.6 1411.4 L364.5 1423.9 L371.2 1418.9 L378 1423.9 L384.7 1429 L393.1 1427.3 L399.9 1433 L404.9 1429 L415.1 1439.1 L425.9 1448.5 L431.9 1442.5 L437.7 1445.2 L450.5 1438.4 L458.9 1427.3 L465 1423.9 L474.1 1429 L482.6 1428.3 L492.7 1435.7 L502.8 1430 L513.5 1436.7 L527 1432.4 L542.2 1429 L550.6 1439.8 L557.4 1433 L562.4 1434 L571.5 1441.8 L579.3 1442.5 L590.4 1439.8 L597.9 1434.7 L610.7 1445.2 L616.4 1439.1 L623.2 1444.8 L629.9 1439.1 L645.1 1451.9 L648.5 1445.2 L655.9 1453.3 L663.7 1450.9 L669.7 1463.7 L675.5 1456.6 L688.3 1454.3 L695.7 1463.7 L702.5 1455.3 L716 1479.6 L721 1487 L732.2 1476.2 L739.6 1491.4 L748 1483.6 L756.5 1493.8 L764.2 1530.2 L776.7 1503.2 L783.5 1531.9 L789.5 1506.6 L803 1539.7"/>
<path d="M234.2 1400.2 L250.4 1400.2 L242.3 1424.4Z" fill="#000"/>
<path d="M356.4 1385 L372.6 1385 L364.5 1409.2Z" fill="#000"/>
<path d="M369.9 1385 L386.1 1385 L378 1409.2Z" fill="#000"/>
<circle cx="242.3" cy="1434" r="5.25" fill="#000"/>
<circle cx="364.5" cy="1424.6" r="5.25" fill="#000"/>
<circle cx="378.6" cy="1423.9" r="5.25" fill="#000"/>
</g>
<g id="panel-E">
<path class="an"  d="M1169.4 315.5 C1169.7 315 1170 313.1 1171.2 312.2 C1172.5 311.2 1174.6 310.3 1176.9 309.9 C1179.1 309.5 1182.3 309.7 1184.7 309.7 C1187.2 309.7 1189.2 310.3 1191.5 309.9 C1193.7 309.5 1195.6 308.2 1198.2 307.4 C1200.9 306.7 1203.1 306.3 1207.2 305.2 C1211.4 304.1 1217.7 302 1223 300.9 C1228.2 299.8 1233.1 299.4 1238.7 298.7 C1244.4 297.9 1250.4 296.9 1256.7 296.4 C1263.1 295.9 1269.9 295.7 1277 295.7 C1284.1 295.7 1292 296 1299.5 296.4 C1307 296.8 1315.2 297.4 1322 298 C1328.7 298.6 1334.4 299.3 1340 300.2 C1345.6 301.2 1350.9 302.3 1355.7 303.6 C1360.6 304.9 1364.3 306.4 1369.2 308.1 C1374.1 309.9 1379.3 312.1 1385 314.2 C1390.6 316.3 1397 318.4 1403 320.5 C1409 322.6 1415 324.4 1421 326.8 C1427 329.2 1433 332.4 1439 335.1 C1445 337.8 1451 340.5 1457 343 C1463 345.5 1468.2 347.5 1475 350.2 C1481.7 352.9 1490 356.1 1497.5 359.2 C1505 362.3 1512.5 365.9 1520 368.9 C1527.5 371.9 1535.8 374.9 1542.5 377.2 C1549.1 379.4 1553.3 380.9 1560 382.4 C1566.7 383.8 1573.5 384.8 1582.9 385.7 C1592.4 386.7 1608.3 387.5 1616.7 388.1 C1625.1 388.6 1629.9 388.7 1633.6 389.1 C1637.2 389.5 1639.2 389.8 1638.6 390.4 C1638.1 391.1 1636.7 392.5 1630.2 393.1 C1623.7 393.8 1610.5 394.2 1599.8 394.2 C1589.1 394.2 1575.6 393.7 1566.1 393.1 C1556.5 392.6 1550.1 391.5 1542.5 390.7 C1534.8 389.8 1527.5 389.1 1520 388 C1512.5 386.9 1505 385.4 1497.5 383.9 C1490 382.4 1482.5 380.9 1475 379 C1467.5 377.1 1460 374.6 1452.5 372.7 C1445 370.7 1436.3 368.7 1430 367.3 C1423.6 365.9 1419 365 1414.2 364.4 C1409.4 363.8 1403.3 363.8 1401.2 363.7"/>
<path class="an"  d="M1169.4 315.5 C1169.7 316.2 1169.9 318.1 1170.8 319.4 C1171.7 320.6 1173 322 1174.6 323.2 C1176.2 324.4 1178.4 325.7 1180.2 326.8 C1182.1 327.9 1184.4 328.6 1185.9 329.9 C1187.4 331.3 1187.9 333.1 1189.2 335.1 C1190.6 337.1 1191.9 339.2 1193.7 341.9 C1195.6 344.5 1197.9 347.9 1200.5 350.9 C1203.1 353.9 1206.5 357.2 1209.5 359.9 C1212.5 362.5 1215.5 364.7 1218.5 366.6 C1221.5 368.5 1224.5 370.1 1227.5 371.1 C1230.5 372.1 1235 372.4 1236.5 372.7"/>
<path class="an"  d="M1174.6 320.5 C1175.6 320.3 1178.4 319.4 1180.2 319.4 C1182.1 319.4 1184.6 320 1185.9 320.5 C1187.2 320.9 1187.7 321.8 1188.1 322.1"/>
<path class="an"  d="M1185.9 325.7 C1186.8 325.7 1189.8 326.6 1191.5 326.1 C1193.2 325.6 1195.2 323.3 1196 322.7"/>
<path class="an"  d="M1238.7 340.7 C1240.2 341.1 1245.1 341.9 1247.7 343 C1250.4 344.1 1252.4 345.8 1254.5 347.5 C1256.6 349.2 1258.9 350.9 1260.1 353.1 C1261.3 355.4 1261.5 358.2 1261.7 361 C1261.9 363.8 1261.4 367 1261.2 370 C1261 373 1260.7 376 1260.6 379 C1260.4 382 1260.4 385.5 1260.1 388 C1259.9 390.4 1260.3 392.2 1259 393.6 C1257.7 395 1255.2 396 1252.2 396.5 C1249.2 397.1 1244.4 397 1241 397 C1237.6 397 1234.8 396.6 1232 396.5 C1229.2 396.4 1225.8 396.5 1224.1 396.3 C1222.4 396.2 1220.9 396.3 1221.9 395.6 C1222.8 394.9 1227.1 393.1 1229.7 392 C1232.4 390.9 1235.3 389.7 1237.6 389.1 C1239.9 388.5 1242.9 389.6 1243.7 388.7 C1244.4 387.7 1242.9 385.8 1242.1 383.5 C1241.4 381.1 1240.1 377.3 1239.2 374.5 C1238.3 371.7 1237.2 369.1 1236.9 366.6 C1236.7 364.2 1237.5 361 1237.6 359.9"/>
<path class="an"  d="M1232 396.5 C1232.4 396 1233.1 394.4 1234.2 393.6 C1235.4 392.8 1238 392.1 1238.7 391.8"/>
<path class="an"  d="M1222.3 351.5 C1222.5 352.7 1222.6 356.5 1223.4 358.7 C1224.3 361 1225.5 363.4 1227.5 365 C1229.5 366.7 1234.1 368.2 1235.4 368.9"/>
<path class="an"  d="M1261.7 376.7 C1262.7 377.1 1265.1 378.4 1268 379 C1270.9 379.6 1274.7 379.9 1279.2 380.1 C1283.7 380.3 1289.4 380.4 1295 380.1 C1300.6 379.8 1307 379.4 1313 378.3 C1319 377.2 1325 374.9 1331 373.4 C1337 371.9 1343.7 370.1 1349 369.3 C1354.2 368.5 1358.4 368.7 1362.5 368.4 C1366.6 368.2 1371.8 367.9 1373.7 367.7"/>
<path class="an"  d="M1377.8 335.8 C1376.9 336.4 1374.5 338 1372.6 339.6 C1370.7 341.2 1368.1 343.3 1366.5 345.2 C1364.9 347.2 1363.1 349.5 1362.9 351.5 C1362.7 353.6 1363.9 355.5 1365.2 357.6 C1366.4 359.8 1368.4 362.3 1370.3 364.4 C1372.3 366.4 1375.6 367.9 1377.1 370 C1378.6 372.1 1379 374.5 1379.3 376.7 C1379.7 379 1378.8 382.3 1379.3 383.5 C1379.9 384.7 1383.3 383.6 1382.7 383.9 C1382.2 384.3 1378.4 384.9 1376 385.7 C1373.5 386.6 1370 387.7 1368.1 389.1 C1366.1 390.5 1363.7 393.2 1364.3 394.1 C1364.8 394.9 1368 394.1 1371.5 394.1 C1374.9 394 1380.8 393.6 1385 393.6 C1389.1 393.6 1393.4 394.5 1396.2 394.3 C1399 394.1 1400.6 393.9 1401.8 392.5 C1403 391.1 1403 388 1403.4 385.7 C1403.8 383.5 1404.2 381.6 1404.1 379 C1403.9 376.4 1403.3 372.4 1402.5 370 C1401.8 367.6 1400.6 366.1 1399.6 364.4 C1398.5 362.7 1397.3 361.1 1396.2 359.9 C1395.1 358.6 1393.4 357.4 1392.8 356.9"/>
<path class="an"  d="M1370.3 394.1 C1370.9 393.4 1372.2 391.1 1373.7 390.2 C1375.2 389.4 1378.4 389.3 1379.3 389.1"/>
<path class="an"  d="M1400.3 338.9 C1400.6 340 1402.1 343.1 1402.5 345.2 C1402.9 347.4 1403 349.9 1402.5 352 C1402 354.1 1400.5 356.3 1399.6 357.6 C1398.7 358.9 1397.7 359.5 1397.3 359.9"/>
<circle cx="1182.9" cy="314.2" r="1.9" fill="#000"/>
<circle cx="1173.9" cy="316" r="0.8" fill="#000"/>
<path class="ax" d="M1156.2 154.6 H1144.4 V323.3 H1156.2 M1144.4 238.9 H1761"/>
<text class="tk" x="1132.6" y="165.2">1.5</text>
<text class="tk" x="1133.9" y="249.8">1</text>
<text class="tk" x="1132.6" y="334.3">0.5</text>
<text class="lb" x="1049.6" y="126.3">E</text>
<text class="tt" transform="translate(1227.4 36.7) scale(0.9823 1.035)">Cotylorhynchus hancocki</text>
<path class="red rj" stroke-width="5.9" d="M1187.7 202.5 L1196.2 182.2 L1202.4 198.2 L1208.8 139.2"/>
<path class="red rj" stroke-width="5.9" d="M1221.5 152.7 L1229.4 118.9"/>
<path class="red rj" stroke-width="6" d="M1240.9 106.3 L1248.1 115.6 L1256.1 83.5 L1269.2 167.9"/>
<path class="red rj" stroke-width="6.2" d="M1301.6 184.7 L1308.4 211.7 L1322.7 172.1 L1328.6 176.3 L1336.2 154.4 L1348 167.9 L1355.6 147.6 L1362.4 91.1 L1367.4 179.7 L1369.4 219.3 L1376.2 209.2 L1382.1 247.2"/>
<path class="red rj" stroke-width="5.2" d="M1395.3 306.2 L1402.8 195.7"/>
<path class="red rj" stroke-width="8" d="M1420.2 197.8 L1430.4 203.7"/>
<path class="red rj" stroke-width="8" d="M1440.5 209.1 L1448.1 215.6 L1454.8 233.3 L1461.6 242.6 L1468.3 242.6 L1475.9 237.5 L1481.8 252.7 L1488.6 259.4 L1495.3 260.3 L1501.2 267.9 L1508.8 279.7 L1516.4 271.6 L1523.2 276.3 L1535 292.3 L1541.7 296.5 L1549.3 305.8 L1558.3 304.6"/>
<path class="red rj" stroke-width="8" d="M1566.2 312.6 L1581.4 312.6 L1590.7 320.2"/>
<path class="red rj" stroke-width="8" d="M1605 326.9 L1610.1 321.9 L1621.9 321.9 L1626.9 326.1 L1635.4 317.6 L1641.3 321 L1651.4 321.3"/>
<path d="M1199.9 102 L1216.1 102 L1208 126.2Z" fill="#000"/>
<path d="M1361 178.8 L1377.2 178.8 L1369.1 203Z" fill="#000"/>
<path d="M1375.8 188.9 L1392 188.9 L1383.9 213.1Z" fill="#000"/>
<circle cx="1208.8" cy="138.8" r="5.25" fill="#000"/>
<circle cx="1369.1" cy="216.8" r="5.25" fill="#000"/>
<circle cx="1382.1" cy="247.2" r="5.25" fill="#000"/>
</g>
<g id="panel-F">
<path class="an"  d="M1119.4 726.2 C1119.7 725.3 1120 722.7 1121.2 720.6 C1122.5 718.6 1124.6 715.9 1126.9 713.9 C1129.1 711.8 1131.9 709.9 1134.7 708.2 C1137.6 706.6 1140.9 705.1 1143.7 703.7 C1146.6 702.4 1148.6 700.9 1151.6 699.9 C1154.6 698.9 1157.1 698.2 1161.7 697.7 C1166.4 697.2 1174.1 697.7 1179.7 697 C1185.4 696.2 1190.2 694.6 1195.5 693.2 C1200.7 691.8 1206 690 1211.2 688.7 C1216.5 687.4 1221.4 686.2 1227 685.3 C1232.6 684.4 1239 683.5 1245 683 C1251 682.6 1257 682.4 1263 682.4 C1269 682.4 1275 682.6 1281 683 C1287 683.5 1292.6 684.3 1299 685.3 C1305.4 686.3 1313.2 687.5 1319.2 689.1 C1325.2 690.8 1329.3 692.8 1335 695.2 C1340.6 697.6 1347 700.6 1353 703.3 C1359 706 1365 709.1 1371 711.6 C1377 714.1 1382.2 716.2 1389 718.4 C1395.7 720.5 1404.3 722.4 1411.5 724.7 C1418.6 726.9 1425.3 729.5 1431.7 731.9 C1438.1 734.2 1444.1 736.2 1449.7 738.6 C1455.3 741.1 1460.2 744.2 1465.5 746.5 C1470.7 748.7 1476 750.4 1481.2 752.1 C1486.5 753.8 1492.2 755.5 1497 756.6 C1501.8 757.7 1501.3 757.2 1510 758.9 C1518.7 760.6 1537 764.7 1549.2 766.8 C1561.4 768.9 1571.7 770.2 1582.9 771.5 C1594.2 772.9 1605.4 774.2 1616.7 774.9 C1627.9 775.6 1639.2 775.9 1650.4 775.9 C1661.7 775.9 1672.9 775.3 1684.2 774.9 C1695.4 774.5 1710.1 773.8 1717.9 773.5 C1725.8 773.3 1728.9 773.3 1731.4 773.5 C1734 773.8 1735.4 774.4 1733.1 775.2 C1730.9 776.1 1726.1 777.4 1717.9 778.6 C1709.8 779.8 1695.4 781.5 1684.2 782.6 C1672.9 783.8 1661.7 784.6 1650.4 785.3 C1639.2 786.1 1627.9 786.8 1616.7 787 C1605.4 787.3 1594.2 787.1 1582.9 786.7 C1571.7 786.2 1561.4 785.4 1549.2 784.3 C1537 783.3 1518.7 781.2 1510 780.2 C1501.3 779.3 1501.8 779.3 1497 778.7 C1492.2 778 1487.2 777 1481.2 776.2 C1475.2 775.3 1467.7 773.9 1461 773.5 C1454.2 773 1446.7 773.9 1440.7 773.5 C1434.7 773.1 1429.5 771.9 1425 771.2 C1420.5 770.6 1416.3 769.5 1413.7 769.7 C1411.1 769.9 1411.1 771.6 1409.2 772.4 C1407.3 773.1 1405.1 773.8 1402.5 773.9 C1399.8 774 1396.3 773.9 1393.5 773 C1390.7 772.2 1386.9 769.7 1385.6 769"/>
<path class="an"  d="M1119.4 726.2 C1119.6 726.8 1119.4 728.9 1120.1 729.6 C1120.8 730.4 1121.4 730.8 1123.5 730.7 C1125.6 730.7 1128.7 729.9 1132.5 729.2 C1136.2 728.4 1141.5 727.3 1146 726.2 C1150.5 725.2 1156.1 723.4 1159.5 722.9 C1162.9 722.3 1164.6 722.7 1166.2 722.9 C1167.9 723.1 1169.4 723.2 1169.6 724 C1169.8 724.7 1169.1 726.1 1167.4 727.4 C1165.7 728.7 1162.7 730.4 1159.5 731.9 C1156.3 733.4 1152 735 1148.2 736.4 C1144.5 737.8 1140.3 739.3 1137 740.2 C1133.7 741.1 1129.4 741.5 1128.4 742 C1127.5 742.5 1129.6 742.9 1131.4 743.1 C1133.2 743.4 1136.8 743.8 1139.2 743.6 C1141.7 743.4 1143.9 742.4 1146 742 C1148.1 741.5 1150.7 741.1 1151.6 740.9"/>
<path class="an"  d="M1151.6 738.6 C1153.3 738.4 1158.2 737.7 1161.7 737 C1165.3 736.4 1169.6 735.5 1173 734.8 C1176.4 734 1179.6 733.3 1182 732.5 C1184.4 731.8 1186.7 730.5 1187.6 730.1"/>
<path class="an"  d="M1151.6 740.9 C1153.3 741.1 1157.8 741.9 1161.7 742 C1165.7 742.1 1171.1 741.4 1175.2 741.5 C1179.4 741.7 1183.5 742.3 1186.5 743.1 C1189.5 743.9 1191.2 745.1 1193.2 746.5 C1195.3 747.9 1197.2 749.6 1198.9 751.4 C1200.6 753.3 1201.9 755.8 1203.4 757.7 C1204.9 759.7 1206.2 762 1207.9 763.4 C1209.6 764.8 1211 765.6 1213.5 766.1 C1215.9 766.6 1219.5 766.3 1222.5 766.3 C1225.5 766.3 1229.2 765.8 1231.5 766.1 C1233.7 766.3 1234.5 767.2 1236 767.9 C1237.5 768.5 1239.7 769.7 1240.5 770.1"/>
<path class="an"  d="M1196.6 713.4 C1196.9 714.1 1198.2 716 1198.2 717.2 C1198.2 718.4 1196.9 720.1 1196.6 720.6"/>
<path class="an"  d="M1235.5 734.8 C1236.7 735.2 1240 736.9 1242.7 737.5 C1245.4 738.1 1249.6 738.1 1251.7 738.6 C1253.9 739.2 1254.8 739.4 1255.8 740.9 C1256.7 742.4 1256.9 744.8 1257.4 747.6 C1257.8 750.4 1258.2 754.2 1258.5 757.7 C1258.7 761.3 1258.6 765.8 1258.9 769 C1259.2 772.2 1259.6 774.6 1260.3 776.9 C1261 779.1 1262.4 780.8 1263 782.5 C1263.5 784.2 1264 785.9 1263.7 787 C1263.3 788.1 1262.3 788.6 1260.7 789.2 C1259.1 789.9 1255.9 789.9 1254 790.8 C1252.1 791.7 1251 793.8 1249.5 794.9 C1248 795.9 1245.9 797.1 1245 797.1 C1244 797.1 1243.7 795.8 1243.9 794.9 C1244 793.9 1246.5 792 1246.1 791.5 C1245.7 790.9 1243.3 791.1 1241.6 791.5 C1239.9 791.9 1237.7 792.5 1236 793.7 C1234.3 794.9 1233 797.7 1231.5 798.7 C1230 799.6 1228.5 799.4 1227 799.4 C1225.5 799.4 1224.4 798.7 1222.5 798.7 C1220.6 798.7 1218 799.4 1215.7 799.4 C1213.5 799.4 1210.9 798.9 1209 798.7 C1207.1 798.5 1205.7 797.7 1204.5 798.2 C1203.3 798.7 1202.1 801.9 1201.8 801.6 C1201.5 801.3 1201.9 797.7 1202.7 796.4 C1203.5 795.1 1204.2 794.6 1206.7 793.7 C1209.3 792.9 1213.9 792.3 1218 791.5 C1222.1 790.6 1227.4 789.4 1231.5 788.6 C1235.6 787.7 1240.3 786.9 1242.7 786.3 C1245.2 785.7 1245.9 786.2 1246.1 785.2 C1246.3 784.2 1244.5 782.6 1243.9 780.2 C1243.2 777.9 1242.8 774.6 1242.3 771.2 C1241.8 767.9 1241.3 763.7 1240.9 760 C1240.6 756.2 1240.2 750.6 1240 748.7"/>
<path class="an"  d="M1223.6 748.3 C1223.5 749.3 1222.8 752.4 1223.2 754.4 C1223.5 756.3 1224.5 758.5 1225.9 760 C1227.2 761.5 1229.6 762.9 1231.5 763.4 C1233.4 763.8 1235.6 763.3 1237.1 762.7 C1238.6 762.1 1239.9 760.4 1240.5 760"/>
<path class="an"  d="M1260.3 771.7 C1262.2 772.1 1267.8 773.3 1272 773.9 C1276.2 774.6 1280.6 775.2 1285.5 775.7 C1290.4 776.2 1296 776.7 1301.2 776.9 C1306.5 777 1312.1 777.1 1317 776.9 C1321.8 776.6 1326 776 1330.5 775.3 C1335 774.5 1339.8 773.3 1344 772.4 C1348.1 771.4 1351.8 770.1 1355.2 769.4 C1358.6 768.8 1362.7 768.5 1364.2 768.3"/>
<path class="an"  d="M1387.8 745.4 C1386.5 745.7 1382.8 747 1380 747.6 C1377.2 748.3 1373.8 748.4 1371 749.2 C1368.2 749.9 1364.4 750.7 1363.1 752.1 C1361.8 753.5 1362.7 754.9 1363.1 757.7 C1363.5 760.6 1364.6 765.6 1365.3 769 C1366.1 772.4 1367.1 775.2 1367.6 778 C1368.1 780.8 1370 784 1368.3 785.9 C1366.6 787.7 1361.5 788.1 1357.5 789.2 C1353.4 790.4 1348.5 791.7 1344 792.6 C1339.5 793.5 1333.7 793.7 1330.5 794.4 C1327.3 795.2 1326.1 795.7 1324.8 797.1 C1323.6 798.5 1322.7 802.4 1323 802.7 C1323.4 803.1 1325.1 800 1327.1 799.4 C1329.1 798.7 1332.5 798.5 1335 798.7 C1337.4 798.9 1339.8 800.6 1341.7 800.5 C1343.6 800.4 1344.3 798.3 1346.2 798.2 C1348.1 798.1 1350.7 799.6 1353 799.8 C1355.2 800 1357.1 800 1359.7 799.4 C1362.3 798.7 1365.3 796.7 1368.7 796 C1372.1 795.3 1377.3 795.7 1380 795.3 C1382.7 794.9 1383.9 795.1 1384.9 793.7 C1386 792.3 1386.3 789.6 1386.3 787 C1386.3 784.4 1385.4 781 1384.9 778 C1384.4 775 1383.9 771.8 1383.3 769 C1382.8 766.2 1382 762.4 1381.8 761.1"/>
<path class="an"  d="M1341.7 800.5 C1342.1 800 1341.3 798.9 1344 797.8 C1346.6 796.7 1353.3 795.2 1357.5 793.7 C1361.6 792.3 1366.1 790.3 1368.7 789.2 C1371.3 788.2 1372.5 787.7 1373.2 787.4"/>
<path class="an"  d="M1396.2 749.9 C1396.7 750.6 1398.6 752.7 1399.1 754.4 C1399.6 756.1 1399.7 758.2 1399.1 760 C1398.5 761.8 1397.2 763.7 1395.7 764.9 C1394.2 766.2 1391.8 766.9 1390.1 767.4 C1388.4 767.9 1386.3 767.8 1385.6 767.9"/>
<path class="an"  d="M1121.7 725.1 C1121.9 724.9 1122.4 724 1122.8 724 C1123.2 724 1123.9 724.7 1123.9 725.1 C1123.9 725.5 1123 726.1 1122.8 726.2"/>
<circle cx="1157.9" cy="707.8" r="3.8" fill="#000"/>
<path class="ax" d="M1156.2 507.3 H1144.4 V676.4 H1156.2 M1144.4 592 H1764.5"/>
<text class="tk" x="1132.6" y="517.9">1.5</text>
<text class="tk" x="1133.9" y="602.9">1</text>
<text class="tk" x="1132.6" y="687.4">0.5</text>
<text class="lb" x="1049.6" y="479.7">F</text>
<text class="tt" transform="translate(1229.6 516.6) scale(0.9859 1.035)">Varanops brevirostris</text>
<path class="red rj" stroke-width="6.4" d="M1200.1 600.4 L1208.5 532.9 L1216 575.8 L1222.7 581.2 L1232.2 602.8 L1238.9 602.8 L1246.3 585.9 L1256.5 580.2 L1268.3 577.5 L1277.4 567.7 L1286.2 573.4 L1291.9 571.1 L1298.7 553.2 L1306.4 563.3 L1315.5 559.2 L1322.3 566.7 L1330 549.8 L1344.2 565 L1358.4 538.7 L1367.2 558.9 L1372.9 555.5 L1380.7 558.9 L1389.8 530.2 L1395.8 550.5"/>
<path class="red rj" stroke-width="6.4" d="M1410.8 580.2 L1419.3 558.2 L1426.7 594.7 L1434.5 589.3 L1441.9 596.4 L1449.7 605.5 L1458.1 588.6 L1465.5 594.3 L1474 585.2 L1481.7 586.2 L1488.5 590.3 L1494.5 593 L1502 625.1 L1517.1 575.1 L1524.6 582.5 L1532.3 607.2 L1540.1 588.6 L1547.5 597.7 L1555.3 599.7 L1562.7 591.3 L1570.5 597.7 L1577.9 593.7 L1585.6 602.8 L1593.1 596 L1599.8 597 L1608.3 612.2 L1615.7 618.3 L1623.4 613.9 L1630.2 600.4 L1638 612.2 L1645.4 628.4 L1653.1 607.2 L1660.6 630.8 L1668 616.3 L1674.7 617.3 L1690.3 646.6 L1698.7 629.1 L1706.1 640.9 L1713.5 632.5 L1721.3 640.9 L1728.7 631.5 L1735.5 657.8 L1743.9 652.7 L1752.7 659.5"/>
<path d="M1216.3 547.4 L1232.5 547.4 L1224.4 571.6Z" fill="#000"/>
<path d="M1372.6 523.7 L1388.8 523.7 L1380.7 547.9Z" fill="#000"/>
<path d="M1390.4 517.7 L1406.6 517.7 L1398.5 541.9Z" fill="#000"/>
<circle cx="1222.4" cy="580.8" r="5.25" fill="#000"/>
<circle cx="1380.7" cy="558.6" r="5.25" fill="#000"/>
<circle cx="1395.8" cy="550.5" r="5.25" fill="#000"/>
</g>
<g id="panel-G">
<path class="an"  d="M1169.4 1106.4 C1169.9 1105.6 1170.9 1102.9 1172.4 1101.5 C1173.8 1100.1 1175.6 1099.1 1178 1098.1 C1180.4 1097.2 1183.6 1096.3 1187 1095.9 C1190.4 1095.4 1195.8 1095.7 1198.2 1095.4 C1200.7 1095.1 1198.6 1094.4 1201.6 1094.1 C1204.6 1093.7 1210.4 1093.6 1216.2 1093.2 C1222.1 1092.7 1229.7 1092 1236.5 1091.4 C1243.2 1090.7 1250 1089.8 1256.7 1089.1 C1263.5 1088.4 1270.6 1087.7 1277 1087.3 C1283.4 1086.9 1289.7 1086.8 1295 1086.9 C1300.2 1087 1304 1087.2 1308.5 1088 C1313 1088.7 1316.7 1089.9 1322 1091.4 C1327.2 1092.8 1334 1094.7 1340 1096.5 C1346 1098.4 1352 1100.5 1358 1102.6 C1364 1104.8 1370 1107 1376 1109.4 C1382 1111.7 1388 1114.2 1394 1116.8 C1400 1119.3 1406 1122.2 1412 1124.7 C1418 1127.2 1423.2 1129.4 1430 1131.9 C1436.7 1134.3 1445 1137.1 1452.5 1139.3 C1460 1141.5 1467.5 1143.3 1475 1144.9 C1482.5 1146.5 1490 1147.7 1497.5 1148.7 C1505 1149.8 1512.5 1150.8 1520 1151.4 C1527.5 1152.1 1535.8 1152.5 1542.5 1152.8 C1549.1 1153.1 1553.3 1153.1 1560 1153.2 C1566.7 1153.4 1573.5 1153.5 1582.9 1153.8 C1592.4 1154.2 1605.4 1155.2 1616.7 1155.5 C1627.9 1155.8 1640.9 1156.1 1650.4 1155.5 C1660 1155 1667.3 1153.2 1674.1 1152.1 C1680.8 1151.1 1689.2 1149.2 1690.9 1149.4 C1692.6 1149.7 1688.1 1152.3 1684.2 1153.8 C1680.2 1155.4 1675.8 1157.2 1667.3 1158.9 C1658.9 1160.6 1644.8 1162.7 1633.6 1164 C1622.3 1165.3 1612.1 1166.1 1599.8 1166.7 C1587.6 1167.2 1569.6 1167 1560 1167.2 C1550.4 1167.4 1551 1167.8 1542.5 1167.9 C1533.9 1168 1520 1168.1 1508.7 1167.9 C1497.5 1167.7 1486.2 1167.2 1475 1166.7 C1463.7 1166.3 1452.5 1165.6 1441.2 1164.9 C1430 1164.3 1416.8 1163.4 1407.5 1162.7 C1398.1 1162 1388.7 1161 1385 1160.7"/>
<path class="an"  d="M1169.4 1106.4 C1169.9 1107.1 1171 1109.4 1172.4 1110.5 C1173.7 1111.6 1175.1 1112.7 1177.5 1113.2 C1180 1113.7 1184.1 1113.4 1187 1113.4 C1189.9 1113.4 1192.8 1113.4 1194.9 1113.2 C1196.9 1113 1198.8 1112.7 1199.4 1112.3 C1199.9 1111.8 1198.4 1110.8 1198.2 1110.5"/>
<path class="an"  d="M1178 1110.5 C1179.1 1110.1 1182.5 1108.8 1184.7 1108.2 C1187 1107.7 1190 1107.5 1191.5 1107.1 C1193 1106.7 1193.4 1106.2 1193.7 1106"/>
<path class="an"  d="M1194.9 1113.9 C1195.4 1115 1196.7 1118.1 1198.2 1120.6 C1199.7 1123.1 1201.8 1125.9 1203.9 1128.9 C1205.9 1131.9 1208.2 1135.7 1210.6 1138.6 C1213.1 1141.5 1215.7 1144.2 1218.5 1146.5 C1221.3 1148.7 1224.7 1150.7 1227.5 1152.1 C1230.3 1153.5 1233.5 1153.9 1235.4 1154.8 C1237.2 1155.8 1238.2 1157.3 1238.7 1157.7"/>
<path class="an"  d="M1203.9 1103.3 L1204.3 1106"/>
<path class="an"  d="M1238.7 1130.7 C1239.9 1131.3 1243.2 1132.6 1245.5 1134.1 C1247.7 1135.6 1250.4 1137.7 1252.2 1139.7 C1254.1 1141.8 1255.6 1143.9 1256.7 1146.5 C1257.9 1149.1 1258.5 1152.5 1259 1155.5 C1259.5 1158.5 1259.7 1161.5 1259.7 1164.5 C1259.7 1167.5 1259.5 1171.3 1259 1173.5 C1258.5 1175.7 1258.2 1176.4 1256.7 1177.5 C1255.2 1178.7 1252.4 1179.8 1250 1180.2 C1247.6 1180.7 1244.4 1180 1242.1 1180.2 C1239.9 1180.4 1238.2 1181.4 1236.5 1181.4 C1234.8 1181.4 1233.7 1180.2 1232 1180.2 C1230.3 1180.3 1228.3 1181.6 1226.4 1181.8 C1224.4 1182 1220.1 1182 1220.3 1181.4 C1220.5 1180.7 1225.2 1179 1227.5 1178 C1229.8 1177 1232.4 1176 1234.2 1175.3 C1236.1 1174.5 1237.8 1174.5 1238.7 1173.5 C1239.7 1172.4 1239.9 1170.5 1239.9 1169 C1239.9 1167.5 1238.7 1166.2 1238.7 1164.5 C1238.7 1162.8 1239.9 1160.4 1239.9 1158.9 C1239.9 1157.4 1239.5 1156.4 1238.7 1155.5 C1238 1154.6 1235.9 1154 1235.4 1153.7"/>
<path class="an"  d="M1223.7 1131.9 C1223.3 1132.8 1221.5 1135.6 1221.2 1137.5 C1220.9 1139.4 1221.8 1142.2 1221.9 1143.1"/>
<path class="an"  d="M1248.9 1130.3 C1249.4 1130.9 1251.5 1132.7 1252.2 1134.1 C1253 1135.5 1253.2 1137.9 1253.4 1138.6"/>
<path class="an"  d="M1226.4 1144.2 C1226.6 1145 1226.7 1147.4 1227.5 1148.7 C1228.2 1150.1 1230.3 1151.6 1230.9 1152.1"/>
<path class="an"  d="M1223 1180.2 L1232 1177.5"/>
<path class="an"  d="M1227.5 1180.7 L1236.5 1178.4"/>
<path class="an"  d="M1260.1 1155 C1262.2 1155.5 1267.8 1156.8 1272.5 1157.7 C1277.2 1158.6 1282.6 1159.8 1288.2 1160.4 C1293.9 1161.1 1300.6 1161.5 1306.2 1161.8 C1311.9 1162.1 1316.4 1162.4 1322 1162.2 C1327.6 1162.1 1334.4 1161.4 1340 1161.1 C1345.6 1160.8 1353.1 1160.6 1355.7 1160.4"/>
<path class="an"  d="M1387.2 1132.5 C1385.7 1132.7 1381.2 1133.1 1378.2 1133.7 C1375.2 1134.2 1371.8 1134.7 1369.2 1135.9 C1366.6 1137.1 1364.3 1138.9 1362.5 1140.9 C1360.6 1142.8 1359.1 1145.4 1358 1147.6 C1356.9 1149.9 1355.8 1152.1 1355.7 1154.4 C1355.7 1156.6 1356.4 1159.1 1357.5 1161.1 C1358.7 1163.2 1360.7 1165.1 1362.5 1166.7 C1364.2 1168.4 1366.2 1170.1 1368.1 1171.2 C1370 1172.4 1372.8 1173.1 1373.7 1173.5"/>
<path class="an"  d="M1373.7 1173.5 L1369.2 1175.3 L1361.3 1177.5 L1354.6 1180.2 L1360.2 1180.2 L1354.6 1185.4 L1361.3 1183.6 L1359.1 1187 L1365.8 1184.7 L1368.1 1188.1 L1371.5 1183.6 L1379.3 1181.4"/>
<path class="an"  d="M1379.3 1181.4 C1380.5 1180.8 1384.7 1179.5 1386.1 1178 C1387.5 1176.5 1387.8 1174.4 1387.9 1172.4 C1388 1170.3 1387.4 1167.7 1386.8 1165.6 C1386.1 1163.6 1385.1 1161.9 1383.8 1160 C1382.6 1158.1 1380.5 1155.8 1379.3 1154.4 C1378.2 1152.9 1377.5 1151.9 1377.1 1151.4"/>
<path class="an"  d="M1403 1139.3 C1402.6 1140.5 1401.7 1144.4 1400.7 1146.5 C1399.8 1148.6 1398.8 1150.6 1397.3 1152.1 C1395.8 1153.6 1394.2 1154.7 1391.7 1155.5 C1389.3 1156.2 1384.2 1156.4 1382.7 1156.6"/>
<circle cx="1185.2" cy="1101.5" r="1.9" fill="#000"/>
<circle cx="1176.2" cy="1106" r="0.8" fill="#000"/>
<path class="ax" d="M1156.2 935.5 H1144.4 V1103.9 H1156.2 M1144.4 1019.5 H1764.5"/>
<text class="tk" x="1132.6" y="946.1">1.5</text>
<text class="tk" x="1133.9" y="1030.4">1</text>
<text class="tk" x="1132.6" y="1114.9">0.5</text>
<text class="lb" x="1049.9" y="893.7">G</text>
<text class="tt" transform="translate(1229.9 939.9) scale(0.9428 1.035)">Casea broilii</text>
<path class="red rj" stroke-width="7.8" d="M1203.5 1018.2 L1212.6 1027.3 L1221 1024.9 L1227.8 1024.9 L1237.9 1035.7 L1247.4 1021.2 L1255.8 1029.7 L1264.2 1035.1 L1272.7 1033 L1281.1 1012.8 L1288.5 1022.9 L1297 1009.7 L1306.4 1000.3 L1315.5 1007.7 L1323.3 1006.4 L1330.7 1029 L1340.2 986.8 L1348.6 979.4 L1356 983.4 L1364.5 1005.4 L1372.2 1000.3 L1381.3 1005.4 L1388.1 1003.7 L1398.2 993.5 L1404.9 1016.2 L1413.4 1007 L1422.8 999.3 L1431.3 1001.3 L1439.7 997.9 L1448.8 1014.8 L1457.3 1010.4 L1465.7 999.3 L1474.1 1011.4 L1482.6 1015.5 L1491 1026.6 L1499.4 1016.2 L1507.9 1017.8 L1516.3 1009.7 L1524.7 1014.5 L1533.2 1025.6 L1541.6 1012.1 L1550.1 1023.2 L1557.8 1025.6 L1566.8 1049.9 L1574.5 1020.5 L1582.9 1053.3 L1590.7 1041.5 L1599.8 1052.6 L1608.3 1052.6 L1616.7 1057.7 L1625.1 1040.8 L1632.9 1063.7 L1642 1050.2 L1650.4 1054.3 L1658.9 1062 L1669.7 1051.9"/>
<path d="M1221.4 990.8 L1237.6 990.8 L1229.5 1015Z" fill="#000"/>
<path d="M1380.3 968.2 L1396.5 968.2 L1388.4 992.4Z" fill="#000"/>
<path d="M1399.5 973.2 L1415.7 973.2 L1407.6 997.4Z" fill="#000"/>
<circle cx="1228.5" cy="1024.6" r="5.25" fill="#000"/>
<circle cx="1388.4" cy="1003.3" r="5.25" fill="#000"/>
<circle cx="1405.3" cy="1016.2" r="5.25" fill="#000"/>
</g>
<g id="panel-H">
<path class="an"  d="M1118.5 1556.2 C1118.8 1555.4 1118.9 1553.4 1120.1 1551.3 C1121.3 1549.2 1123.3 1546.4 1125.7 1543.9 C1128.2 1541.3 1131.7 1538.2 1134.7 1536 C1137.7 1533.7 1140.7 1531.8 1143.7 1530.4 C1146.7 1528.9 1149.9 1528.4 1152.7 1527.4 C1155.6 1526.5 1158 1525.8 1160.6 1524.7 C1163.2 1523.7 1165.7 1522.5 1168.5 1521.4 C1171.3 1520.2 1174.7 1518.7 1177.5 1518 C1180.3 1517.2 1182.7 1517.6 1185.4 1516.9 C1188 1516.1 1190.6 1514.3 1193.2 1513.5 C1195.9 1512.7 1198.1 1511.8 1201.1 1511.9 C1204.1 1512 1207.3 1513.2 1211.2 1513.9 C1215.2 1514.7 1220 1515.6 1224.7 1516.4 C1229.4 1517.3 1234.1 1518.9 1239.4 1519.1 C1244.6 1519.4 1249.7 1518.4 1256.2 1518 C1262.8 1517.5 1271.2 1516.8 1278.7 1516.4 C1286.2 1516 1294.1 1515.7 1301.2 1515.7 C1308.4 1515.7 1315.5 1516 1321.5 1516.4 C1327.5 1516.8 1332 1517 1337.2 1518 C1342.5 1519 1347.3 1520.6 1353 1522.5 C1358.6 1524.4 1365 1526.8 1371 1529.2 C1377 1531.7 1383 1534.3 1389 1537.1 C1395 1539.9 1401 1543 1407 1546.1 C1413 1549.2 1419.3 1553 1425 1555.8 C1430.6 1558.6 1435.1 1560.7 1440.7 1563 C1446.3 1565.2 1452 1567.2 1458.7 1569.3 C1465.5 1571.4 1474.1 1573.7 1481.2 1575.4 C1488.3 1577 1496.7 1578.4 1501.5 1579.2 C1506.3 1580 1502 1578.9 1510 1580.3 C1518 1581.7 1537 1585.8 1549.2 1587.6 C1561.4 1589.4 1572.3 1590.1 1582.9 1591 C1593.6 1591.8 1607 1592.1 1613.3 1592.6 C1619.6 1593.2 1620.7 1593.9 1620.7 1594.3 C1620.7 1594.8 1619.6 1595.2 1613.3 1595.3 C1607 1595.5 1593.6 1595.4 1582.9 1595.3 C1572.3 1595.3 1560.5 1595.2 1549.2 1595 C1538 1594.8 1524.9 1594.5 1515.5 1594.3 C1506 1594.2 1500 1594.3 1492.5 1594 C1484.9 1593.8 1477.5 1593.5 1470 1592.9 C1462.5 1592.4 1454.2 1591.5 1447.5 1590.7 C1440.7 1589.8 1435.5 1588.6 1429.5 1587.7 C1423.5 1586.9 1416.3 1585.9 1411.5 1585.5 C1406.6 1585 1402.1 1585.1 1400.2 1585"/>
<path class="an"  d="M1118.5 1556.2 C1119.2 1557 1120.6 1559.4 1122.4 1560.7 C1124.1 1562.1 1126.3 1563.3 1129.1 1564.1 C1131.9 1564.9 1135.7 1565.4 1139.2 1565.7 C1142.8 1566 1146.7 1566 1150.5 1565.7 C1154.2 1565.4 1158.2 1564.8 1161.7 1563.7 C1165.3 1562.5 1168.5 1560.7 1171.9 1558.9 C1175.2 1557.1 1178.4 1554.4 1182 1552.9 C1185.6 1551.4 1189.9 1550.9 1193.2 1549.9 C1196.6 1549 1200.7 1547.7 1202.2 1547.2"/>
<path class="an"  d="M1160.6 1558.9 C1162.3 1557.9 1167.6 1555 1170.7 1552.9 C1173.9 1550.7 1177.1 1547.9 1179.7 1546.1 C1182.4 1544.4 1184.5 1543.2 1186.5 1542.3 C1188.4 1541.4 1190.6 1540.8 1191.4 1540.5"/>
<path class="an"  d="M1185.4 1555.1 C1186.7 1555.5 1190.4 1555.9 1193.2 1557.4 C1196.1 1558.9 1198.9 1561.7 1202.2 1564.1 C1205.6 1566.6 1209.4 1569.3 1213.5 1572 C1217.6 1574.7 1223.2 1578.3 1227 1580.3 C1230.7 1582.4 1233.7 1583.6 1236 1584.4 C1238.2 1585.2 1239.7 1584.9 1240.5 1585"/>
<path class="an"  d="M1240 1564.8 C1241.2 1565.2 1245.1 1565.9 1247.2 1567 C1249.4 1568.2 1251.4 1569.8 1252.9 1571.5 C1254.4 1573.3 1255.5 1575.5 1256.2 1577.6 C1257 1579.8 1257.2 1582.3 1257.4 1584.4 C1257.5 1586.4 1257.9 1587.6 1257.4 1590 C1256.8 1592.4 1255.3 1596 1254 1599 C1252.7 1602 1251 1605.3 1249.5 1608 C1248 1610.7 1247.2 1613.9 1245 1615.2 C1242.7 1616.4 1239.4 1615.5 1236 1615.4 C1232.6 1615.3 1228 1615 1224.7 1614.7 C1221.4 1614.4 1216.6 1614.2 1216.2 1613.6 C1215.8 1613 1219.9 1611.9 1222.5 1611.4 C1225 1610.8 1229.4 1611.2 1231.5 1610.2 C1233.5 1609.3 1233.9 1608 1234.9 1605.7 C1235.8 1603.5 1236.4 1599.6 1237.1 1596.7 C1237.9 1593.9 1238.8 1591.1 1239.4 1588.9 C1239.9 1586.6 1240.3 1584.2 1240.5 1583.2"/>
<path class="an"  d="M1224.7 1615.2 C1224.9 1614.8 1224.7 1613.5 1225.9 1612.9 C1227 1612.4 1230.5 1612 1231.5 1611.8"/>
<path class="an"  d="M1246.1 1559.6 L1246.8 1565.2"/>
<path class="an"  d="M1217.5 1564.1 C1218.2 1565.2 1219.8 1568.6 1221.4 1570.9 C1222.9 1573.1 1224.5 1575.5 1227 1577.6 C1229.4 1579.8 1234.5 1582.7 1236 1583.7"/>
<path class="an"  d="M1258.9 1588.9 C1261.1 1589.6 1266.8 1592.2 1272 1593.4 C1277.2 1594.6 1283.2 1595.4 1290 1596.1 C1296.7 1596.7 1305 1597.2 1312.5 1597.2 C1320 1597.2 1328.2 1597 1335 1596.3 C1341.7 1595.6 1347 1594.2 1353 1592.9 C1359 1591.6 1368 1589.2 1371 1588.4"/>
<path class="an"  d="M1385.6 1555.1 C1384.3 1555.5 1380.3 1556.1 1377.7 1557.4 C1375.1 1558.7 1372 1560.9 1369.8 1563 C1367.7 1565.1 1365.6 1567.5 1364.7 1569.7 C1363.7 1572 1363.5 1574.1 1364.2 1576.5 C1364.9 1578.9 1366.8 1581.7 1368.7 1584.4 C1370.6 1587 1372.8 1589.8 1375.5 1592.2 C1378.1 1594.7 1381.3 1597.6 1384.5 1599 C1387.7 1600.4 1392.9 1600.5 1394.6 1600.8"/>
<path class="an"  d="M1394.6 1600.8 L1385.6 1601.2 L1378.8 1605.7 L1372.1 1611.4 L1376.6 1611.8 L1372.1 1618.1 L1378.8 1615.9 L1376.6 1622.6 L1383.3 1619.2 L1382.7 1626 L1390.1 1618.1 L1394.6 1614.7 L1395.7 1623.7 L1398 1617 L1401.3 1611.4 L1410.3 1601.2"/>
<path class="an"  d="M1410.3 1601.2 C1409.4 1599.4 1407.2 1593.9 1404.7 1590 C1402.3 1586.1 1398.5 1581 1395.7 1577.6 C1392.9 1574.2 1390.3 1571.7 1387.8 1569.7 C1385.4 1567.8 1382.2 1566.6 1381.1 1565.9"/>
<path class="an"  d="M1394.6 1563 C1395 1563.9 1396.5 1566.7 1396.8 1568.6 C1397.2 1570.5 1397.2 1572.7 1396.8 1574.2 C1396.5 1575.7 1395 1577.1 1394.6 1577.6"/>
<path class="an"  d="M1129.1 1561.6 L1130 1564.3"/>
<path class="an"  d="M1131.8 1561.5 L1132.7 1564.2"/>
<path class="an"  d="M1134.5 1561.3 L1135.4 1564"/>
<path class="an"  d="M1137.2 1561.1 L1138.1 1563.8"/>
<path class="an"  d="M1139.9 1560.9 L1140.8 1563.6"/>
<path class="an"  d="M1142.6 1560.7 L1143.5 1563.4"/>
<path class="an"  d="M1145.3 1560.6 L1146.2 1563.3"/>
<path class="an"  d="M1148 1560.4 L1148.9 1563.1"/>
<path class="an"  d="M1150.7 1560.2 L1151.6 1562.9"/>
<path class="an"  d="M1153.4 1560 L1154.3 1562.7"/>
<path class="an"  d="M1156.1 1559.8 L1157 1562.5"/>
<path class="an"  d="M1158.8 1559.7 L1159.7 1562.4"/>
<circle cx="1170.7" cy="1528.8" r="2.8" fill="#000"/>
<circle cx="1123" cy="1554.7" r="1" fill="#000"/>
<path class="ax" d="M1156.2 1350.4 H1144.4 V1520.1 H1156.2 M1144.4 1435.5 H1764.5"/>
<text class="tk" x="1132.6" y="1361">1.5</text>
<text class="tk" x="1133.9" y="1446.4">1</text>
<text class="tk" x="1132.6" y="1531.1">0.5</text>
<text class="lb" x="1049.6" y="1313.9">H</text>
<text class="tt" transform="translate(1233.3 1337.2) scale(0.9832 1.035)">Ophiacodon retroversus</text>
<path class="red rj" stroke-width="6" d="M1199.8 1353.7 L1214.3 1427.3 L1222 1424.6 L1237.9 1438.1 L1243.6 1424.9 L1250.7 1389.2 L1258.2 1401.3 L1266.6 1432.4 L1272.7 1425.6 L1281.1 1436.7 L1287.9 1435.1 L1295.3 1400.3 L1303.7 1422.2 L1310.5 1436.4 L1317.2 1410.4 L1324.6 1439.1 L1332.4 1413.8 L1345.9 1407 L1353.3 1451.6 L1367.2 1418.9 L1373.9 1451.6 L1381.3 1395.2 L1388.8 1418.9 L1412.4 1461.7 L1418.4 1427.3 L1426.9 1446.5 L1437 1445.8 L1447.1 1437.4 L1455.6 1479.6 L1462.3 1430 L1469.7 1450.2 L1477.5 1438.1 L1485.9 1436.7"/>
<path class="red rj" stroke-width="8" d="M1476.1 1440.3 L1485.6 1437.2"/>
<path class="red rj" stroke-width="7.8" d="M1518.1 1451.6 L1528.6 1454.1 L1534.5 1440.6 L1542.6 1449.1 L1548.8 1434.7 L1557.3 1455.8"/>
<path class="red rj" stroke-width="6.2" d="M1548.8 1434.7 L1557.3 1456.6 L1563.2 1420 L1571.6 1450.7 L1579.2 1462.6 L1586.8 1497.1"/>
<path class="red rj" stroke-width="7.6" d="M1598.3 1439.8 L1606.2 1441.5 L1621.4 1469.3 L1635.7 1471.8 L1645 1482.8 L1654.6 1483.1"/>
<path d="M1213.9 1388.4 L1230.1 1388.4 L1222 1412.6Z" fill="#000"/>
<path d="M1366.5 1379 L1382.7 1379 L1374.6 1403.2Z" fill="#000"/>
<path d="M1381 1373.2 L1397.2 1373.2 L1389.1 1397.4Z" fill="#000"/>
<circle cx="1221.7" cy="1424.3" r="5.25" fill="#000"/>
<circle cx="1373.6" cy="1451.6" r="5.25" fill="#000"/>
<circle cx="1388.4" cy="1418.2" r="5.25" fill="#000"/>
</g>
</svg>
</body></html>
